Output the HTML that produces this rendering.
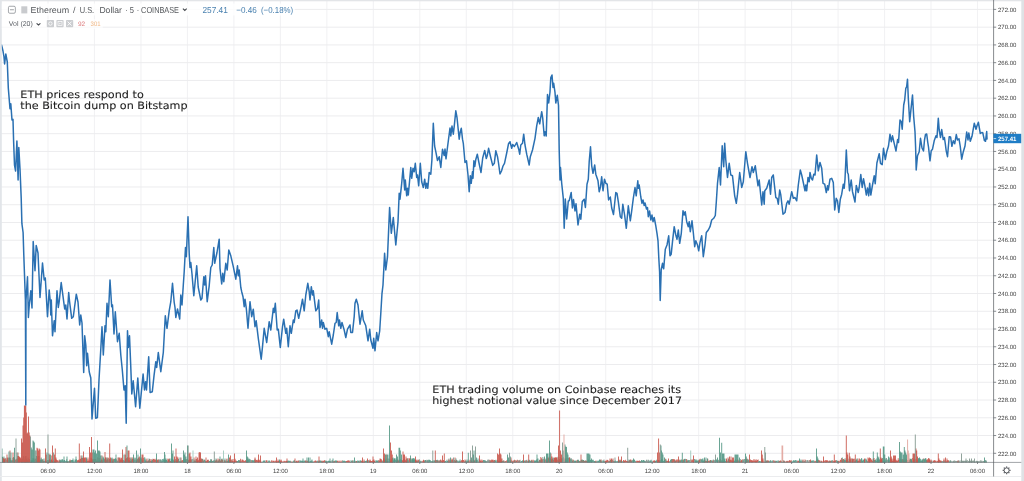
<!DOCTYPE html>
<html lang="en"><head><meta charset="utf-8"><title>Ethereum / U.S. Dollar · 5 · COINBASE</title>
<style>html,body{margin:0;padding:0;background:#fff;overflow:hidden}body{width:1024px;height:481px;position:relative}svg{position:absolute;left:0;top:0;display:block}text{font-family:"Liberation Sans",sans-serif;text-rendering:geometricPrecision}.ax{font-size:6.1px;fill:#3e3e3e}.an{font-family:"DejaVu Sans","Liberation Sans",sans-serif;font-size:10.2px;fill:#1a1a1a;stroke:#1a1a1a;stroke-width:0.08px}</style></head><body>
<svg width="1024" height="481" viewBox="0 0 1024 481" style="will-change:transform">
<defs><filter id="soft" x="-10" y="-10" width="1044" height="501" filterUnits="userSpaceOnUse" color-interpolation-filters="sRGB"><feGaussianBlur stdDeviation="0.42"/></filter></defs>
<rect width="1024" height="481" fill="#fff"/>
<g filter="url(#soft)">
<rect x="-10" y="-10" width="1044" height="501" fill="#fff"/>
<path d="M48.00 0V462.4M94.47 0V462.4M140.95 0V462.4M187.43 0V462.4M233.90 0V462.4M280.38 0V462.4M326.85 0V462.4M373.32 0V462.4M419.80 0V462.4M466.28 0V462.4M512.75 0V462.4M559.23 0V462.4M605.70 0V462.4M652.18 0V462.4M698.65 0V462.4M745.12 0V462.4M791.60 0V462.4M838.08 0V462.4M884.55 0V462.4M931.02 0V462.4M977.50 0V462.4" stroke="#f2f2f4" stroke-width="1.1" fill="none"/>
<path d="M0 9.40H993.6M0 27.16H993.6M0 44.91H993.6M0 62.67H993.6M0 80.42H993.6M0 98.18H993.6M0 115.94H993.6M0 133.69H993.6M0 151.45H993.6M0 169.20H993.6M0 186.96H993.6M0 204.72H993.6M0 222.47H993.6M0 240.23H993.6M0 257.98H993.6M0 275.74H993.6M0 293.50H993.6M0 311.25H993.6M0 329.01H993.6M0 346.76H993.6M0 364.52H993.6M0 382.28H993.6M0 400.03H993.6M0 417.79H993.6M0 435.54H993.6M0 453.30H993.6" stroke="#ececee" stroke-width="1" fill="none"/>
<path d="M13.84 462.4v-4.6h0.95v4.6zM14.53 462.4v-2.7h0.95v2.7zM15.22 462.4v-2.9h0.95v2.9zM15.91 462.4v-3.2h0.95v3.2zM16.60 462.4v-4.0h0.95v4.0zM17.29 462.4v-6.5h0.95v6.5zM17.98 462.4v-6.5h0.95v6.5zM18.67 462.4v-5.8h0.95v5.8zM19.36 462.4v-5.1h0.95v5.1zM20.05 462.4v-4.2h0.95v4.2zM20.75 462.4v-2.0h0.95v2.0zM24.20 462.4v-2.8h0.95v2.8zM24.89 462.4v-6.1h0.95v6.1zM31.10 462.4v-1.9h0.95v1.9zM34.55 462.4v-3.8h0.95v3.8zM35.24 462.4v-3.6h0.95v3.6zM48.34 462.4v-2.0h0.95v2.0zM49.03 462.4v-3.2h0.95v3.2zM49.72 462.4v-2.0h0.95v2.0zM50.41 462.4v-2.3h0.95v2.3zM51.10 462.4v-2.9h0.95v2.9zM54.55 462.4v-1.4h0.95v1.4zM55.24 462.4v-3.1h0.95v3.1zM55.93 462.4v-3.0h0.95v3.0zM56.62 462.4v-2.3h0.95v2.3zM57.31 462.4v-1.9h0.95v1.9zM58.00 462.4v-1.0h0.95v1.0zM58.69 462.4v-2.6h0.95v2.6zM59.38 462.4v-1.8h0.95v1.8zM66.97 462.4v-1.1h0.95v1.1zM76.63 462.4v-2.4h0.95v2.4zM77.32 462.4v-2.0h0.95v2.0zM78.01 462.4v-2.6h0.95v2.6zM78.70 462.4v-1.7h0.95v1.7zM79.39 462.4v-3.2h0.95v3.2zM80.08 462.4v-3.5h0.95v3.5zM80.77 462.4v-4.3h0.95v4.3zM81.46 462.4v-4.9h0.95v4.9zM82.15 462.4v-4.3h0.95v4.3zM82.84 462.4v-4.5h0.95v4.5zM83.53 462.4v-4.9h0.95v4.9zM84.22 462.4v-4.1h0.95v4.1zM84.91 462.4v-5.0h0.95v5.0zM85.60 462.4v-1.6h0.95v1.6zM86.29 462.4v-3.4h0.95v3.4zM86.98 462.4v-1.5h0.95v1.5zM87.67 462.4v-2.9h0.95v2.9zM88.36 462.4v-1.5h0.95v1.5zM89.05 462.4v-1.7h0.95v1.7zM89.74 462.4v-1.8h0.95v1.8zM90.43 462.4v-4.8h0.95v4.8zM91.12 462.4v-4.2h0.95v4.2zM91.81 462.4v-2.9h0.95v2.9zM92.50 462.4v-3.2h0.95v3.2zM93.19 462.4v-3.2h0.95v3.2zM93.88 462.4v-3.5h0.95v3.5zM94.57 462.4v-3.4h0.95v3.4zM95.26 462.4v-3.4h0.95v3.4zM95.95 462.4v-1.8h0.95v1.8zM96.64 462.4v-1.6h0.95v1.6zM97.33 462.4v-5.1h0.95v5.1zM98.02 462.4v-1.9h0.95v1.9zM98.71 462.4v-4.4h0.95v4.4zM99.40 462.4v-2.4h0.95v2.4zM100.09 462.4v-1.5h0.95v1.5zM100.78 462.4v-2.6h0.95v2.6zM101.47 462.4v-4.0h0.95v4.0zM105.61 462.4v-4.0h0.95v4.0zM106.30 462.4v-2.2h0.95v2.2zM106.99 462.4v-3.1h0.95v3.1zM107.68 462.4v-4.5h0.95v4.5zM109.75 462.4v-2.0h0.95v2.0zM110.44 462.4v-3.3h0.95v3.3zM111.82 462.4v-1.9h0.95v1.9zM112.51 462.4v-3.3h0.95v3.3zM119.41 462.4v-3.6h0.95v3.6zM120.10 462.4v-2.6h0.95v2.6zM120.79 462.4v-4.5h0.95v4.5zM121.48 462.4v-3.0h0.95v3.0zM122.17 462.4v-2.2h0.95v2.2zM124.93 462.4v-3.2h0.95v3.2zM125.62 462.4v-3.9h0.95v3.9zM126.31 462.4v-4.5h0.95v4.5zM127.00 462.4v-5.1h0.95v5.1zM127.69 462.4v-4.1h0.95v4.1zM128.38 462.4v-2.2h0.95v2.2zM131.14 462.4v-2.1h0.95v2.1zM131.83 462.4v-3.5h0.95v3.5zM132.52 462.4v-5.0h0.95v5.0zM133.21 462.4v-3.4h0.95v3.4zM135.97 462.4v-2.0h0.95v2.0zM136.66 462.4v-3.2h0.95v3.2zM137.35 462.4v-3.8h0.95v3.8zM138.04 462.4v-4.9h0.95v4.9zM142.18 462.4v-1.8h0.95v1.8zM142.87 462.4v-4.7h0.95v4.7zM147.70 462.4v-2.2h0.95v2.2zM148.39 462.4v-1.8h0.95v1.8zM149.08 462.4v-3.5h0.95v3.5zM149.77 462.4v-1.6h0.95v1.6zM150.46 462.4v-3.4h0.95v3.4zM151.84 462.4v-2.3h0.95v2.3zM152.53 462.4v-3.7h0.95v3.7zM153.22 462.4v-3.3h0.95v3.3zM153.91 462.4v-2.9h0.95v2.9zM154.60 462.4v-3.6h0.95v3.6zM155.29 462.4v-2.4h0.95v2.4zM155.98 462.4v-3.6h0.95v3.6zM156.67 462.4v-2.2h0.95v2.2zM157.36 462.4v-2.6h0.95v2.6zM167.71 462.4v-3.5h0.95v3.5zM168.40 462.4v-2.5h0.95v2.5zM169.09 462.4v-3.7h0.95v3.7zM169.78 462.4v-1.4h0.95v1.4zM170.47 462.4v-1.3h0.95v1.3zM181.51 462.4v-1.7h0.95v1.7zM182.20 462.4v-2.4h0.95v2.4zM182.89 462.4v-2.4h0.95v2.4zM186.34 462.4v-2.8h0.95v2.8zM187.03 462.4v-3.3h0.95v3.3zM187.72 462.4v-2.7h0.95v2.7zM188.41 462.4v-2.5h0.95v2.5zM196.00 462.4v-3.5h0.95v3.5zM196.69 462.4v-1.4h0.95v1.4zM197.38 462.4v-2.1h0.95v2.1zM198.07 462.4v-2.2h0.95v2.2zM198.76 462.4v-3.6h0.95v3.6zM205.66 462.4v-1.3h0.95v1.3zM206.35 462.4v-1.2h0.95v1.2zM207.04 462.4v-2.5h0.95v2.5zM207.73 462.4v-2.4h0.95v2.4zM211.18 462.4v-2.6h0.95v2.6zM214.63 462.4v-1.6h0.95v1.6zM215.32 462.4v-2.1h0.95v2.1zM216.01 462.4v-2.8h0.95v2.8zM216.70 462.4v-1.2h0.95v1.2zM218.77 462.4v-3.5h0.95v3.5zM219.46 462.4v-2.7h0.95v2.7zM220.15 462.4v-1.3h0.95v1.3zM220.84 462.4v-3.2h0.95v3.2zM221.53 462.4v-3.2h0.95v3.2zM222.22 462.4v-2.6h0.95v2.6zM222.91 462.4v-1.6h0.95v1.6zM223.60 462.4v-2.6h0.95v2.6zM224.29 462.4v-2.0h0.95v2.0zM231.19 462.4v-1.9h0.95v1.9zM231.88 462.4v-1.3h0.95v1.3zM232.57 462.4v-3.4h0.95v3.4zM233.26 462.4v-1.2h0.95v1.2zM233.95 462.4v-1.8h0.95v1.8zM234.64 462.4v-3.6h0.95v3.6zM235.33 462.4v-1.9h0.95v1.9zM236.02 462.4v-1.6h0.95v1.6zM240.16 462.4v-3.7h0.95v3.7zM240.85 462.4v-1.1h0.95v1.1zM241.54 462.4v-2.7h0.95v2.7zM242.23 462.4v-3.0h0.95v3.0zM242.92 462.4v-2.1h0.95v2.1zM243.61 462.4v-1.2h0.95v1.2zM244.30 462.4v-1.6h0.95v1.6zM244.99 462.4v-2.1h0.95v2.1zM245.68 462.4v-1.7h0.95v1.7zM246.37 462.4v-3.5h0.95v3.5zM247.06 462.4v-2.5h0.95v2.5zM251.20 462.4v-2.1h0.95v2.1zM254.65 462.4v-3.6h0.95v3.6zM255.34 462.4v-2.2h0.95v2.2zM256.03 462.4v-2.5h0.95v2.5zM256.72 462.4v-2.7h0.95v2.7zM257.41 462.4v-1.8h0.95v1.8zM258.10 462.4v-2.8h0.95v2.8zM258.79 462.4v-2.6h0.95v2.6zM259.48 462.4v-1.8h0.95v1.8zM260.17 462.4v-1.8h0.95v1.8zM260.86 462.4v-0.7h0.95v0.7zM265.00 462.4v-0.7h0.95v0.7zM265.69 462.4v-2.2h0.95v2.2zM266.38 462.4v-2.2h0.95v2.2zM267.07 462.4v-0.7h0.95v0.7zM270.52 462.4v-0.9h0.95v0.9zM271.21 462.4v-2.2h0.95v2.2zM271.90 462.4v-1.0h0.95v1.0zM272.59 462.4v-1.8h0.95v1.8zM273.28 462.4v-1.3h0.95v1.3zM273.97 462.4v-0.8h0.95v0.8zM274.66 462.4v-2.0h0.95v2.0zM275.35 462.4v-1.2h0.95v1.2zM276.04 462.4v-0.9h0.95v0.9zM276.73 462.4v-0.9h0.95v0.9zM277.42 462.4v-1.3h0.95v1.3zM278.11 462.4v-1.6h0.95v1.6zM278.80 462.4v-1.7h0.95v1.7zM279.49 462.4v-1.2h0.95v1.2zM280.18 462.4v-1.8h0.95v1.8zM280.87 462.4v-2.0h0.95v2.0zM281.56 462.4v-0.9h0.95v0.9zM282.25 462.4v-1.0h0.95v1.0zM282.94 462.4v-0.8h0.95v0.8zM283.63 462.4v-1.6h0.95v1.6zM284.32 462.4v-1.2h0.95v1.2zM285.01 462.4v-1.1h0.95v1.1zM285.70 462.4v-1.7h0.95v1.7zM286.39 462.4v-1.5h0.95v1.5zM290.53 462.4v-1.1h0.95v1.1zM291.22 462.4v-0.7h0.95v0.7zM291.91 462.4v-0.7h0.95v0.7zM296.05 462.4v-1.4h0.95v1.4zM296.74 462.4v-1.0h0.95v1.0zM297.43 462.4v-1.2h0.95v1.2zM298.12 462.4v-1.8h0.95v1.8zM305.02 462.4v-1.9h0.95v1.9zM305.71 462.4v-2.0h0.95v2.0zM306.40 462.4v-0.9h0.95v0.9zM307.09 462.4v-1.7h0.95v1.7zM307.78 462.4v-1.6h0.95v1.6zM313.30 462.4v-0.8h0.95v0.8zM313.99 462.4v-1.1h0.95v1.1zM314.68 462.4v-1.8h0.95v1.8zM315.37 462.4v-1.8h0.95v1.8zM316.06 462.4v-1.1h0.95v1.1zM318.13 462.4v-1.2h0.95v1.2zM322.27 462.4v-1.1h0.95v1.1zM322.96 462.4v-1.3h0.95v1.3zM323.65 462.4v-2.1h0.95v2.1zM324.34 462.4v-2.1h0.95v2.1zM325.72 462.4v-1.2h0.95v1.2zM333.31 462.4v-1.5h0.95v1.5zM334.00 462.4v-1.5h0.95v1.5zM336.76 462.4v-1.5h0.95v1.5zM337.45 462.4v-1.9h0.95v1.9zM338.14 462.4v-0.8h0.95v0.8zM338.83 462.4v-0.8h0.95v0.8zM339.52 462.4v-1.8h0.95v1.8zM340.21 462.4v-0.7h0.95v0.7zM340.90 462.4v-0.8h0.95v0.8zM341.59 462.4v-2.0h0.95v2.0zM345.73 462.4v-1.4h0.95v1.4zM346.42 462.4v-1.5h0.95v1.5zM347.11 462.4v-1.8h0.95v1.8zM347.80 462.4v-1.9h0.95v1.9zM348.49 462.4v-2.2h0.95v2.2zM349.18 462.4v-1.2h0.95v1.2zM349.87 462.4v-0.6h0.95v0.6zM351.94 462.4v-1.9h0.95v1.9zM355.39 462.4v-1.1h0.95v1.1zM356.08 462.4v-1.3h0.95v1.3zM358.84 462.4v-1.1h0.95v1.1zM360.91 462.4v-1.4h0.95v1.4zM361.60 462.4v-1.9h0.95v1.9zM362.29 462.4v-1.1h0.95v1.1zM362.98 462.4v-1.0h0.95v1.0zM363.67 462.4v-1.2h0.95v1.2zM368.50 462.4v-2.2h0.95v2.2zM369.19 462.4v-1.5h0.95v1.5zM369.88 462.4v-2.0h0.95v2.0zM370.57 462.4v-1.4h0.95v1.4zM371.26 462.4v-1.3h0.95v1.3zM371.95 462.4v-1.9h0.95v1.9zM372.64 462.4v-0.8h0.95v0.8zM373.33 462.4v-2.0h0.95v2.0zM374.02 462.4v-1.3h0.95v1.3zM374.71 462.4v-1.0h0.95v1.0zM378.16 462.4v-2.1h0.95v2.1zM378.85 462.4v-2.0h0.95v2.0zM379.54 462.4v-3.8h0.95v3.8zM380.23 462.4v-3.6h0.95v3.6zM380.92 462.4v-3.2h0.95v3.2zM381.61 462.4v-1.8h0.95v1.8zM389.20 462.4v-3.6h0.95v3.6zM389.89 462.4v-1.6h0.95v1.6zM390.58 462.4v-2.8h0.95v2.8zM391.27 462.4v-2.8h0.95v2.8zM391.96 462.4v-4.4h0.95v4.4zM396.10 462.4v-1.9h0.95v1.9zM396.79 462.4v-3.0h0.95v3.0zM397.48 462.4v-3.0h0.95v3.0zM398.17 462.4v-1.8h0.95v1.8zM401.62 462.4v-1.6h0.95v1.6zM402.31 462.4v-2.5h0.95v2.5zM403.69 462.4v-3.6h0.95v3.6zM404.38 462.4v-2.8h0.95v2.8zM405.07 462.4v-2.2h0.95v2.2zM405.76 462.4v-1.6h0.95v1.6zM408.52 462.4v-4.3h0.95v4.3zM409.21 462.4v-3.7h0.95v3.7zM409.90 462.4v-4.4h0.95v4.4zM410.59 462.4v-3.7h0.95v3.7zM414.73 462.4v-2.7h0.95v2.7zM415.42 462.4v-2.5h0.95v2.5zM416.11 462.4v-1.6h0.95v1.6zM417.49 462.4v-1.8h0.95v1.8zM418.18 462.4v-2.6h0.95v2.6zM421.63 462.4v-1.6h0.95v1.6zM422.32 462.4v-1.0h0.95v1.0zM423.01 462.4v-2.7h0.95v2.7zM423.70 462.4v-1.7h0.95v1.7zM438.19 462.4v-1.8h0.95v1.8zM438.88 462.4v-1.1h0.95v1.1zM439.57 462.4v-2.3h0.95v2.3zM440.26 462.4v-2.8h0.95v2.8zM440.95 462.4v-1.9h0.95v1.9zM441.64 462.4v-2.0h0.95v2.0zM442.33 462.4v-0.9h0.95v0.9zM443.02 462.4v-2.4h0.95v2.4zM443.71 462.4v-1.1h0.95v1.1zM447.85 462.4v-2.8h0.95v2.8zM448.54 462.4v-1.1h0.95v1.1zM449.23 462.4v-2.7h0.95v2.7zM449.92 462.4v-1.9h0.95v1.9zM451.30 462.4v-2.7h0.95v2.7zM451.99 462.4v-2.9h0.95v2.9zM454.75 462.4v-1.3h0.95v1.3zM455.44 462.4v-2.0h0.95v2.0zM456.13 462.4v-2.5h0.95v2.5zM460.27 462.4v-1.4h0.95v1.4zM460.96 462.4v-2.2h0.95v2.2zM461.65 462.4v-2.1h0.95v2.1zM462.34 462.4v-2.1h0.95v2.1zM463.03 462.4v-2.4h0.95v2.4zM463.72 462.4v-1.1h0.95v1.1zM467.17 462.4v-1.1h0.95v1.1zM467.86 462.4v-1.3h0.95v1.3zM468.55 462.4v-2.7h0.95v2.7zM469.24 462.4v-0.9h0.95v0.9zM469.93 462.4v-2.4h0.95v2.4zM470.62 462.4v-1.6h0.95v1.6zM471.31 462.4v-1.8h0.95v1.8zM472.00 462.4v-1.5h0.95v1.5zM472.69 462.4v-2.7h0.95v2.7zM473.38 462.4v-2.7h0.95v2.7zM474.07 462.4v-2.0h0.95v2.0zM479.59 462.4v-1.9h0.95v1.9zM480.28 462.4v-1.7h0.95v1.7zM480.97 462.4v-0.9h0.95v0.9zM481.66 462.4v-2.7h0.95v2.7zM482.35 462.4v-1.4h0.95v1.4zM489.25 462.4v-2.7h0.95v2.7zM489.94 462.4v-1.9h0.95v1.9zM490.63 462.4v-2.2h0.95v2.2zM491.32 462.4v-2.8h0.95v2.8zM492.01 462.4v-2.6h0.95v2.6zM492.70 462.4v-2.6h0.95v2.6zM493.39 462.4v-1.7h0.95v1.7zM494.08 462.4v-2.5h0.95v2.5zM497.53 462.4v-2.0h0.95v2.0zM498.22 462.4v-1.7h0.95v1.7zM498.91 462.4v-1.4h0.95v1.4zM499.60 462.4v-2.3h0.95v2.3zM500.29 462.4v-0.9h0.95v0.9zM505.12 462.4v-1.5h0.95v1.5zM505.81 462.4v-1.1h0.95v1.1zM506.50 462.4v-2.4h0.95v2.4zM509.95 462.4v-1.5h0.95v1.5zM510.64 462.4v-2.6h0.95v2.6zM512.02 462.4v-1.2h0.95v1.2zM512.71 462.4v-2.1h0.95v2.1zM513.40 462.4v-1.2h0.95v1.2zM514.09 462.4v-2.6h0.95v2.6zM514.78 462.4v-0.9h0.95v0.9zM515.47 462.4v-2.3h0.95v2.3zM516.16 462.4v-1.5h0.95v1.5zM516.85 462.4v-2.7h0.95v2.7zM530.65 462.4v-1.8h0.95v1.8zM531.35 462.4v-2.7h0.95v2.7zM532.04 462.4v-1.0h0.95v1.0zM532.73 462.4v-2.7h0.95v2.7zM533.42 462.4v-0.8h0.95v0.8zM538.25 462.4v-0.9h0.95v0.9zM538.94 462.4v-2.4h0.95v2.4zM539.63 462.4v-2.2h0.95v2.2zM540.32 462.4v-5.3h0.95v5.3zM541.01 462.4v-4.2h0.95v4.2zM545.15 462.4v-2.9h0.95v2.9zM545.84 462.4v-3.6h0.95v3.6zM546.53 462.4v-1.7h0.95v1.7zM547.22 462.4v-5.0h0.95v5.0zM547.91 462.4v-4.2h0.95v4.2zM548.60 462.4v-5.7h0.95v5.7zM549.29 462.4v-4.7h0.95v4.7zM549.98 462.4v-3.8h0.95v3.8zM552.05 462.4v-3.9h0.95v3.9zM552.74 462.4v-2.7h0.95v2.7zM553.43 462.4v-4.6h0.95v4.6zM554.12 462.4v-4.6h0.95v4.6zM554.81 462.4v-3.9h0.95v3.9zM555.50 462.4v-5.1h0.95v5.1zM556.19 462.4v-4.1h0.95v4.1zM556.88 462.4v-2.7h0.95v2.7zM564.47 462.4v-4.0h0.95v4.0zM565.16 462.4v-3.9h0.95v3.9zM576.20 462.4v-1.8h0.95v1.8zM576.89 462.4v-2.4h0.95v2.4zM578.96 462.4v-1.3h0.95v1.3zM583.79 462.4v-1.3h0.95v1.3zM584.48 462.4v-1.3h0.95v1.3zM585.17 462.4v-1.9h0.95v1.9zM585.86 462.4v-1.3h0.95v1.3zM586.55 462.4v-1.8h0.95v1.8zM594.83 462.4v-1.2h0.95v1.2zM595.52 462.4v-1.9h0.95v1.9zM604.49 462.4v-1.2h0.95v1.2zM605.18 462.4v-1.3h0.95v1.3zM605.87 462.4v-1.6h0.95v1.6zM606.56 462.4v-2.7h0.95v2.7zM607.25 462.4v-2.3h0.95v2.3zM607.94 462.4v-1.6h0.95v1.6zM610.70 462.4v-2.9h0.95v2.9zM623.12 462.4v-2.3h0.95v2.3zM623.81 462.4v-1.6h0.95v1.6zM624.50 462.4v-1.6h0.95v1.6zM625.19 462.4v-2.6h0.95v2.6zM625.88 462.4v-1.3h0.95v1.3zM626.57 462.4v-1.5h0.95v1.5zM627.26 462.4v-1.3h0.95v1.3zM627.95 462.4v-0.9h0.95v0.9zM628.64 462.4v-2.0h0.95v2.0zM629.33 462.4v-2.5h0.95v2.5zM630.02 462.4v-2.8h0.95v2.8zM630.71 462.4v-1.4h0.95v1.4zM631.40 462.4v-2.7h0.95v2.7zM635.54 462.4v-1.0h0.95v1.0zM636.23 462.4v-1.7h0.95v1.7zM636.92 462.4v-1.6h0.95v1.6zM637.61 462.4v-1.6h0.95v1.6zM638.30 462.4v-1.5h0.95v1.5zM638.99 462.4v-1.8h0.95v1.8zM639.68 462.4v-1.4h0.95v1.4zM652.79 462.4v-2.0h0.95v2.0zM653.48 462.4v-1.3h0.95v1.3zM654.17 462.4v-2.2h0.95v2.2zM657.62 462.4v-2.4h0.95v2.4zM658.31 462.4v-2.1h0.95v2.1zM665.21 462.4v-3.7h0.95v3.7zM665.90 462.4v-1.5h0.95v1.5zM666.59 462.4v-1.6h0.95v1.6zM667.28 462.4v-1.7h0.95v1.7zM667.97 462.4v-1.7h0.95v1.7zM668.66 462.4v-1.1h0.95v1.1zM672.11 462.4v-3.3h0.95v3.3zM672.80 462.4v-3.4h0.95v3.4zM673.49 462.4v-2.9h0.95v2.9zM674.18 462.4v-3.2h0.95v3.2zM674.87 462.4v-1.8h0.95v1.8zM675.56 462.4v-1.9h0.95v1.9zM676.25 462.4v-2.9h0.95v2.9zM676.94 462.4v-2.9h0.95v2.9zM682.46 462.4v-2.0h0.95v2.0zM683.15 462.4v-3.0h0.95v3.0zM685.91 462.4v-3.3h0.95v3.3zM689.36 462.4v-2.1h0.95v2.1zM690.05 462.4v-3.0h0.95v3.0zM690.74 462.4v-2.9h0.95v2.9zM691.43 462.4v-2.0h0.95v2.0zM692.12 462.4v-2.9h0.95v2.9zM692.81 462.4v-1.5h0.95v1.5zM699.02 462.4v-2.8h0.95v2.8zM699.71 462.4v-3.7h0.95v3.7zM703.85 462.4v-2.1h0.95v2.1zM704.54 462.4v-2.9h0.95v2.9zM705.23 462.4v-1.4h0.95v1.4zM705.92 462.4v-1.5h0.95v1.5zM706.61 462.4v-1.6h0.95v1.6zM707.30 462.4v-3.7h0.95v3.7zM707.99 462.4v-1.4h0.95v1.4zM708.68 462.4v-1.9h0.95v1.9zM709.37 462.4v-1.1h0.95v1.1zM710.06 462.4v-2.5h0.95v2.5zM718.34 462.4v-2.2h0.95v2.2zM719.03 462.4v-1.5h0.95v1.5zM719.72 462.4v-3.4h0.95v3.4zM720.41 462.4v-1.8h0.95v1.8zM722.48 462.4v-1.3h0.95v1.3zM723.17 462.4v-1.6h0.95v1.6zM729.38 462.4v-2.0h0.95v2.0zM730.07 462.4v-2.6h0.95v2.6zM730.76 462.4v-2.6h0.95v2.6zM731.45 462.4v-1.6h0.95v1.6zM736.28 462.4v-2.5h0.95v2.5zM736.97 462.4v-2.9h0.95v2.9zM737.66 462.4v-1.1h0.95v1.1zM738.35 462.4v-2.6h0.95v2.6zM739.04 462.4v-1.2h0.95v1.2zM740.42 462.4v-1.1h0.95v1.1zM741.11 462.4v-2.5h0.95v2.5zM741.80 462.4v-3.2h0.95v3.2zM748.70 462.4v-1.4h0.95v1.4zM749.39 462.4v-1.9h0.95v1.9zM750.08 462.4v-3.0h0.95v3.0zM750.77 462.4v-2.4h0.95v2.4zM751.46 462.4v-1.8h0.95v1.8zM752.15 462.4v-2.0h0.95v2.0zM752.84 462.4v-1.8h0.95v1.8zM753.53 462.4v-3.5h0.95v3.5zM754.22 462.4v-1.9h0.95v1.9zM754.91 462.4v-2.0h0.95v2.0zM755.60 462.4v-3.1h0.95v3.1zM756.29 462.4v-1.6h0.95v1.6zM756.98 462.4v-2.5h0.95v2.5zM757.67 462.4v-2.9h0.95v2.9zM761.81 462.4v-2.1h0.95v2.1zM762.50 462.4v-2.0h0.95v2.0zM763.19 462.4v-0.7h0.95v0.7zM763.88 462.4v-1.0h0.95v1.0zM764.57 462.4v-0.8h0.95v0.8zM765.95 462.4v-1.5h0.95v1.5zM766.64 462.4v-2.3h0.95v2.3zM767.33 462.4v-1.5h0.95v1.5zM768.02 462.4v-2.0h0.95v2.0zM772.85 462.4v-2.2h0.95v2.2zM773.54 462.4v-0.8h0.95v0.8zM774.23 462.4v-1.7h0.95v1.7zM774.92 462.4v-1.3h0.95v1.3zM778.37 462.4v-1.4h0.95v1.4zM779.06 462.4v-1.5h0.95v1.5zM779.75 462.4v-2.1h0.95v2.1zM780.44 462.4v-1.5h0.95v1.5zM784.58 462.4v-0.7h0.95v0.7zM785.27 462.4v-0.8h0.95v0.8zM785.96 462.4v-1.2h0.95v1.2zM786.65 462.4v-1.6h0.95v1.6zM787.34 462.4v-1.2h0.95v1.2zM788.03 462.4v-1.2h0.95v1.2zM788.72 462.4v-1.9h0.95v1.9zM789.41 462.4v-2.4h0.95v2.4zM790.10 462.4v-1.4h0.95v1.4zM790.79 462.4v-2.1h0.95v2.1zM797.00 462.4v-1.1h0.95v1.1zM797.69 462.4v-2.0h0.95v2.0zM798.38 462.4v-1.4h0.95v1.4zM808.73 462.4v-2.3h0.95v2.3zM814.25 462.4v-1.6h0.95v1.6zM814.94 462.4v-1.2h0.95v1.2zM815.63 462.4v-1.6h0.95v1.6zM816.32 462.4v-2.4h0.95v2.4zM817.70 462.4v-2.1h0.95v2.1zM818.39 462.4v-2.3h0.95v2.3zM819.08 462.4v-1.8h0.95v1.8zM821.15 462.4v-1.5h0.95v1.5zM821.84 462.4v-0.9h0.95v0.9zM822.53 462.4v-0.9h0.95v0.9zM823.22 462.4v-2.3h0.95v2.3zM823.91 462.4v-1.7h0.95v1.7zM824.60 462.4v-1.0h0.95v1.0zM825.29 462.4v-2.4h0.95v2.4zM825.98 462.4v-1.8h0.95v1.8zM826.67 462.4v-2.2h0.95v2.2zM827.36 462.4v-2.0h0.95v2.0zM828.05 462.4v-1.0h0.95v1.0zM828.74 462.4v-1.4h0.95v1.4zM829.43 462.4v-2.1h0.95v2.1zM830.12 462.4v-1.4h0.95v1.4zM832.19 462.4v-1.9h0.95v1.9zM832.88 462.4v-1.1h0.95v1.1zM833.57 462.4v-1.7h0.95v1.7zM834.26 462.4v-1.2h0.95v1.2zM834.95 462.4v-2.2h0.95v2.2zM835.64 462.4v-1.8h0.95v1.8zM837.71 462.4v-1.7h0.95v1.7zM838.40 462.4v-1.4h0.95v1.4zM839.09 462.4v-0.8h0.95v0.8zM839.78 462.4v-2.6h0.95v2.6zM840.47 462.4v-2.7h0.95v2.7zM841.16 462.4v-4.4h0.95v4.4zM841.85 462.4v-2.2h0.95v2.2zM842.54 462.4v-3.5h0.95v3.5zM843.23 462.4v-3.4h0.95v3.4zM851.51 462.4v-1.4h0.95v1.4zM852.20 462.4v-3.2h0.95v3.2zM852.89 462.4v-3.5h0.95v3.5zM857.03 462.4v-1.5h0.95v1.5zM857.72 462.4v-2.0h0.95v2.0zM858.41 462.4v-1.3h0.95v1.3zM859.10 462.4v-3.8h0.95v3.8zM859.79 462.4v-2.7h0.95v2.7zM863.93 462.4v-2.9h0.95v2.9zM864.62 462.4v-3.2h0.95v3.2zM868.07 462.4v-3.8h0.95v3.8zM868.76 462.4v-4.2h0.95v4.2zM869.45 462.4v-3.4h0.95v3.4zM870.14 462.4v-4.4h0.95v4.4zM870.83 462.4v-2.8h0.95v2.8zM871.52 462.4v-2.8h0.95v2.8zM872.21 462.4v-1.3h0.95v1.3zM872.90 462.4v-4.0h0.95v4.0zM873.59 462.4v-4.3h0.95v4.3zM874.28 462.4v-2.4h0.95v2.4zM878.42 462.4v-3.1h0.95v3.1zM879.80 462.4v-2.4h0.95v2.4zM880.49 462.4v-2.1h0.95v2.1zM881.18 462.4v-3.2h0.95v3.2zM889.46 462.4v-1.8h0.95v1.8zM890.15 462.4v-3.9h0.95v3.9zM890.84 462.4v-1.8h0.95v1.8zM891.53 462.4v-3.0h0.95v3.0zM892.22 462.4v-1.4h0.95v1.4zM892.91 462.4v-1.6h0.95v1.6zM893.60 462.4v-3.3h0.95v3.3zM894.29 462.4v-4.0h0.95v4.0zM894.98 462.4v-1.4h0.95v1.4zM895.67 462.4v-2.6h0.95v2.6zM896.36 462.4v-1.5h0.95v1.5zM897.05 462.4v-1.6h0.95v1.6zM897.74 462.4v-4.2h0.95v4.2zM898.43 462.4v-2.3h0.95v2.3zM899.12 462.4v-2.8h0.95v2.8zM899.81 462.4v-3.4h0.95v3.4zM901.88 462.4v-3.3h0.95v3.3zM902.57 462.4v-2.1h0.95v2.1zM903.26 462.4v-3.2h0.95v3.2zM903.95 462.4v-2.0h0.95v2.0zM904.64 462.4v-3.8h0.95v3.8zM905.33 462.4v-2.5h0.95v2.5zM906.02 462.4v-3.4h0.95v3.4zM906.71 462.4v-2.3h0.95v2.3zM907.40 462.4v-2.3h0.95v2.3zM912.23 462.4v-4.3h0.95v4.3zM912.92 462.4v-2.9h0.95v2.9zM913.61 462.4v-3.0h0.95v3.0zM914.30 462.4v-3.6h0.95v3.6zM914.99 462.4v-3.2h0.95v3.2zM915.68 462.4v-1.6h0.95v1.6zM916.37 462.4v-3.5h0.95v3.5zM917.06 462.4v-2.4h0.95v2.4zM923.27 462.4v-4.0h0.95v4.0zM926.03 462.4v-2.6h0.95v2.6zM926.72 462.4v-2.2h0.95v2.2zM927.41 462.4v-3.5h0.95v3.5zM928.10 462.4v-4.4h0.95v4.4zM928.79 462.4v-4.0h0.95v4.0zM929.48 462.4v-2.3h0.95v2.3zM930.17 462.4v-1.2h0.95v1.2zM932.24 462.4v-0.7h0.95v0.7zM932.93 462.4v-1.7h0.95v1.7zM933.62 462.4v-1.6h0.95v1.6zM934.31 462.4v-2.3h0.95v2.3zM935.00 462.4v-1.7h0.95v1.7zM935.69 462.4v-1.7h0.95v1.7zM936.38 462.4v-0.7h0.95v0.7zM937.07 462.4v-1.4h0.95v1.4zM937.76 462.4v-1.8h0.95v1.8zM938.45 462.4v-2.3h0.95v2.3zM939.14 462.4v-2.2h0.95v2.2zM939.83 462.4v-2.0h0.95v2.0zM940.52 462.4v-1.4h0.95v1.4zM943.28 462.4v-2.1h0.95v2.1zM946.04 462.4v-1.2h0.95v1.2zM946.73 462.4v-2.3h0.95v2.3zM947.42 462.4v-1.6h0.95v1.6zM948.11 462.4v-2.2h0.95v2.2z" fill="#c9584d" fill-opacity="0.92"/>
<path d="M1.42 462.4v-5.8h0.95v5.8zM2.11 462.4v-5.5h0.95v5.5zM2.80 462.4v-3.9h0.95v3.9zM3.49 462.4v-5.8h0.95v5.8zM4.19 462.4v-2.7h0.95v2.7zM8.32 462.4v-4.6h0.95v4.6zM9.01 462.4v-4.9h0.95v4.9zM9.70 462.4v-4.7h0.95v4.7zM10.39 462.4v-2.6h0.95v2.6zM11.08 462.4v-1.9h0.95v1.9zM11.77 462.4v-2.1h0.95v2.1zM12.46 462.4v-4.6h0.95v4.6zM13.15 462.4v-5.5h0.95v5.5zM21.44 462.4v-3.7h0.95v3.7zM25.58 462.4v-6.4h0.95v6.4zM26.27 462.4v-3.7h0.95v3.7zM26.96 462.4v-2.2h0.95v2.2zM27.65 462.4v-4.8h0.95v4.8zM30.41 462.4v-2.4h0.95v2.4zM31.79 462.4v-2.7h0.95v2.7zM32.48 462.4v-4.4h0.95v4.4zM33.17 462.4v-3.9h0.95v3.9zM33.86 462.4v-2.7h0.95v2.7zM35.93 462.4v-6.5h0.95v6.5zM36.62 462.4v-1.8h0.95v1.8zM37.30 462.4v-5.9h0.95v5.9zM37.99 462.4v-6.4h0.95v6.4zM38.68 462.4v-6.5h0.95v6.5zM39.37 462.4v-1.9h0.95v1.9zM40.06 462.4v-2.7h0.95v2.7zM47.65 462.4v-2.3h0.95v2.3zM51.79 462.4v-1.6h0.95v1.6zM52.48 462.4v-1.4h0.95v1.4zM53.17 462.4v-2.6h0.95v2.6zM53.86 462.4v-1.3h0.95v1.3zM60.07 462.4v-2.1h0.95v2.1zM60.76 462.4v-2.1h0.95v2.1zM61.45 462.4v-3.1h0.95v3.1zM62.14 462.4v-3.2h0.95v3.2zM62.83 462.4v-1.2h0.95v1.2zM63.52 462.4v-2.4h0.95v2.4zM64.21 462.4v-2.4h0.95v2.4zM64.90 462.4v-1.1h0.95v1.1zM65.59 462.4v-1.4h0.95v1.4zM66.28 462.4v-3.1h0.95v3.1zM67.66 462.4v-1.5h0.95v1.5zM68.35 462.4v-1.0h0.95v1.0zM69.04 462.4v-1.6h0.95v1.6zM69.73 462.4v-2.2h0.95v2.2zM70.42 462.4v-1.8h0.95v1.8zM71.11 462.4v-2.4h0.95v2.4zM71.80 462.4v-2.5h0.95v2.5zM72.49 462.4v-2.3h0.95v2.3zM73.18 462.4v-1.0h0.95v1.0zM73.87 462.4v-1.0h0.95v1.0zM74.56 462.4v-3.0h0.95v3.0zM75.25 462.4v-2.6h0.95v2.6zM75.94 462.4v-3.2h0.95v3.2zM102.16 462.4v-2.1h0.95v2.1zM102.85 462.4v-4.9h0.95v4.9zM103.54 462.4v-4.0h0.95v4.0zM104.23 462.4v-3.1h0.95v3.1zM104.92 462.4v-4.8h0.95v4.8zM108.37 462.4v-2.9h0.95v2.9zM109.06 462.4v-3.7h0.95v3.7zM113.20 462.4v-2.9h0.95v2.9zM113.89 462.4v-3.4h0.95v3.4zM114.58 462.4v-4.0h0.95v4.0zM115.27 462.4v-4.2h0.95v4.2zM129.07 462.4v-2.1h0.95v2.1zM129.76 462.4v-1.5h0.95v1.5zM130.45 462.4v-3.3h0.95v3.3zM135.28 462.4v-3.0h0.95v3.0zM138.73 462.4v-3.6h0.95v3.6zM139.42 462.4v-4.8h0.95v4.8zM140.11 462.4v-4.5h0.95v4.5zM140.80 462.4v-5.0h0.95v5.0zM141.49 462.4v-3.2h0.95v3.2zM144.25 462.4v-5.2h0.95v5.2zM144.94 462.4v-1.8h0.95v1.8zM145.63 462.4v-3.0h0.95v3.0zM146.32 462.4v-1.1h0.95v1.1zM147.01 462.4v-1.2h0.95v1.2zM151.15 462.4v-1.5h0.95v1.5zM161.50 462.4v-1.6h0.95v1.6zM162.19 462.4v-3.3h0.95v3.3zM162.88 462.4v-3.7h0.95v3.7zM163.57 462.4v-2.5h0.95v2.5zM164.26 462.4v-2.6h0.95v2.6zM164.95 462.4v-2.5h0.95v2.5zM165.64 462.4v-2.4h0.95v2.4zM166.33 462.4v-2.7h0.95v2.7zM167.02 462.4v-1.1h0.95v1.1zM171.16 462.4v-3.6h0.95v3.6zM171.85 462.4v-3.5h0.95v3.5zM172.54 462.4v-3.2h0.95v3.2zM173.23 462.4v-2.1h0.95v2.1zM173.92 462.4v-1.7h0.95v1.7zM174.61 462.4v-2.0h0.95v2.0zM175.30 462.4v-3.5h0.95v3.5zM175.99 462.4v-1.9h0.95v1.9zM176.68 462.4v-1.6h0.95v1.6zM177.37 462.4v-2.7h0.95v2.7zM178.06 462.4v-3.5h0.95v3.5zM178.75 462.4v-1.4h0.95v1.4zM180.13 462.4v-1.1h0.95v1.1zM180.82 462.4v-1.8h0.95v1.8zM183.58 462.4v-3.4h0.95v3.4zM184.27 462.4v-3.0h0.95v3.0zM184.96 462.4v-2.9h0.95v2.9zM185.65 462.4v-3.4h0.95v3.4zM192.55 462.4v-3.5h0.95v3.5zM193.24 462.4v-1.9h0.95v1.9zM193.93 462.4v-1.9h0.95v1.9zM194.62 462.4v-3.2h0.95v3.2zM195.31 462.4v-1.6h0.95v1.6zM199.45 462.4v-1.6h0.95v1.6zM200.14 462.4v-2.7h0.95v2.7zM201.52 462.4v-3.5h0.95v3.5zM202.21 462.4v-3.7h0.95v3.7zM202.90 462.4v-1.4h0.95v1.4zM203.59 462.4v-2.4h0.95v2.4zM204.28 462.4v-2.9h0.95v2.9zM204.97 462.4v-1.6h0.95v1.6zM208.42 462.4v-1.4h0.95v1.4zM209.11 462.4v-1.5h0.95v1.5zM209.80 462.4v-1.6h0.95v1.6zM210.49 462.4v-3.3h0.95v3.3zM211.87 462.4v-1.3h0.95v1.3zM212.56 462.4v-1.3h0.95v1.3zM213.25 462.4v-2.1h0.95v2.1zM213.94 462.4v-2.2h0.95v2.2zM217.39 462.4v-2.2h0.95v2.2zM218.08 462.4v-2.0h0.95v2.0zM227.05 462.4v-1.4h0.95v1.4zM227.74 462.4v-1.9h0.95v1.9zM228.43 462.4v-2.5h0.95v2.5zM229.12 462.4v-2.0h0.95v2.0zM229.81 462.4v-2.1h0.95v2.1zM230.50 462.4v-3.0h0.95v3.0zM236.71 462.4v-1.5h0.95v1.5zM237.40 462.4v-1.3h0.95v1.3zM238.09 462.4v-2.4h0.95v2.4zM238.78 462.4v-2.4h0.95v2.4zM239.47 462.4v-1.6h0.95v1.6zM247.75 462.4v-3.7h0.95v3.7zM248.44 462.4v-2.6h0.95v2.6zM249.13 462.4v-3.7h0.95v3.7zM249.82 462.4v-2.8h0.95v2.8zM251.89 462.4v-2.3h0.95v2.3zM252.58 462.4v-1.5h0.95v1.5zM253.27 462.4v-2.4h0.95v2.4zM253.96 462.4v-2.7h0.95v2.7zM261.55 462.4v-0.7h0.95v0.7zM262.24 462.4v-0.9h0.95v0.9zM262.93 462.4v-1.9h0.95v1.9zM263.62 462.4v-1.3h0.95v1.3zM264.31 462.4v-2.1h0.95v2.1zM267.76 462.4v-1.8h0.95v1.8zM268.45 462.4v-1.0h0.95v1.0zM269.14 462.4v-1.9h0.95v1.9zM269.83 462.4v-0.7h0.95v0.7zM287.08 462.4v-1.7h0.95v1.7zM287.77 462.4v-1.9h0.95v1.9zM288.46 462.4v-1.4h0.95v1.4zM289.15 462.4v-1.7h0.95v1.7zM289.84 462.4v-1.6h0.95v1.6zM292.60 462.4v-1.1h0.95v1.1zM293.29 462.4v-1.9h0.95v1.9zM293.98 462.4v-2.1h0.95v2.1zM294.67 462.4v-0.9h0.95v0.9zM295.36 462.4v-1.0h0.95v1.0zM299.50 462.4v-2.0h0.95v2.0zM300.19 462.4v-1.9h0.95v1.9zM300.88 462.4v-1.3h0.95v1.3zM301.57 462.4v-1.8h0.95v1.8zM302.26 462.4v-1.3h0.95v1.3zM302.95 462.4v-0.9h0.95v0.9zM303.64 462.4v-2.0h0.95v2.0zM304.33 462.4v-1.6h0.95v1.6zM308.47 462.4v-0.8h0.95v0.8zM309.16 462.4v-0.8h0.95v0.8zM309.85 462.4v-1.5h0.95v1.5zM310.54 462.4v-1.1h0.95v1.1zM311.23 462.4v-1.9h0.95v1.9zM311.92 462.4v-0.8h0.95v0.8zM312.61 462.4v-1.0h0.95v1.0zM316.75 462.4v-1.2h0.95v1.2zM317.44 462.4v-1.8h0.95v1.8zM318.82 462.4v-1.6h0.95v1.6zM319.51 462.4v-2.1h0.95v2.1zM320.20 462.4v-1.7h0.95v1.7zM320.89 462.4v-1.1h0.95v1.1zM321.58 462.4v-1.5h0.95v1.5zM325.03 462.4v-1.2h0.95v1.2zM326.41 462.4v-1.3h0.95v1.3zM327.10 462.4v-0.9h0.95v0.9zM327.79 462.4v-1.5h0.95v1.5zM328.48 462.4v-1.9h0.95v1.9zM329.17 462.4v-1.5h0.95v1.5zM334.69 462.4v-2.2h0.95v2.2zM335.38 462.4v-1.7h0.95v1.7zM336.07 462.4v-1.9h0.95v1.9zM342.28 462.4v-1.8h0.95v1.8zM342.97 462.4v-1.4h0.95v1.4zM343.66 462.4v-1.9h0.95v1.9zM344.35 462.4v-1.3h0.95v1.3zM345.04 462.4v-1.2h0.95v1.2zM350.56 462.4v-2.1h0.95v2.1zM351.25 462.4v-1.5h0.95v1.5zM352.63 462.4v-2.1h0.95v2.1zM353.32 462.4v-1.0h0.95v1.0zM354.01 462.4v-0.9h0.95v0.9zM354.70 462.4v-1.7h0.95v1.7zM356.77 462.4v-1.1h0.95v1.1zM357.46 462.4v-2.1h0.95v2.1zM358.15 462.4v-1.4h0.95v1.4zM359.53 462.4v-2.1h0.95v2.1zM360.22 462.4v-1.9h0.95v1.9zM364.36 462.4v-1.6h0.95v1.6zM365.05 462.4v-1.4h0.95v1.4zM365.74 462.4v-1.3h0.95v1.3zM366.43 462.4v-2.1h0.95v2.1zM367.12 462.4v-2.1h0.95v2.1zM367.81 462.4v-2.1h0.95v2.1zM375.40 462.4v-2.2h0.95v2.2zM376.09 462.4v-1.9h0.95v1.9zM376.78 462.4v-1.9h0.95v1.9zM377.47 462.4v-1.9h0.95v1.9zM382.30 462.4v-1.7h0.95v1.7zM382.99 462.4v-4.2h0.95v4.2zM383.68 462.4v-3.9h0.95v3.9zM384.37 462.4v-2.1h0.95v2.1zM385.06 462.4v-3.0h0.95v3.0zM385.75 462.4v-1.7h0.95v1.7zM386.44 462.4v-3.8h0.95v3.8zM387.13 462.4v-1.3h0.95v1.3zM392.65 462.4v-4.0h0.95v4.0zM393.34 462.4v-2.2h0.95v2.2zM394.03 462.4v-3.8h0.95v3.8zM394.72 462.4v-2.6h0.95v2.6zM395.41 462.4v-4.2h0.95v4.2zM400.93 462.4v-2.4h0.95v2.4zM403.00 462.4v-3.4h0.95v3.4zM411.28 462.4v-2.1h0.95v2.1zM411.97 462.4v-3.6h0.95v3.6zM412.66 462.4v-2.3h0.95v2.3zM413.35 462.4v-4.3h0.95v4.3zM414.04 462.4v-3.1h0.95v3.1zM416.80 462.4v-1.7h0.95v1.7zM424.39 462.4v-2.1h0.95v2.1zM425.08 462.4v-2.4h0.95v2.4zM428.53 462.4v-2.8h0.95v2.8zM429.22 462.4v-2.4h0.95v2.4zM429.91 462.4v-2.2h0.95v2.2zM430.60 462.4v-0.8h0.95v0.8zM431.29 462.4v-1.5h0.95v1.5zM431.98 462.4v-1.5h0.95v1.5zM432.67 462.4v-2.2h0.95v2.2zM433.36 462.4v-1.0h0.95v1.0zM434.05 462.4v-1.9h0.95v1.9zM434.74 462.4v-2.4h0.95v2.4zM436.12 462.4v-2.4h0.95v2.4zM436.81 462.4v-2.7h0.95v2.7zM437.50 462.4v-1.9h0.95v1.9zM444.40 462.4v-1.7h0.95v1.7zM445.09 462.4v-1.5h0.95v1.5zM445.78 462.4v-1.0h0.95v1.0zM446.47 462.4v-2.6h0.95v2.6zM447.16 462.4v-1.4h0.95v1.4zM450.61 462.4v-2.0h0.95v2.0zM456.82 462.4v-1.9h0.95v1.9zM457.51 462.4v-1.0h0.95v1.0zM458.20 462.4v-0.9h0.95v0.9zM458.89 462.4v-1.2h0.95v1.2zM459.58 462.4v-2.8h0.95v2.8zM464.41 462.4v-0.9h0.95v0.9zM465.10 462.4v-1.9h0.95v1.9zM465.79 462.4v-1.0h0.95v1.0zM466.48 462.4v-1.6h0.95v1.6zM474.76 462.4v-1.8h0.95v1.8zM475.45 462.4v-2.9h0.95v2.9zM476.14 462.4v-2.5h0.95v2.5zM483.04 462.4v-2.3h0.95v2.3zM483.73 462.4v-2.0h0.95v2.0zM484.42 462.4v-2.4h0.95v2.4zM485.11 462.4v-1.4h0.95v1.4zM485.80 462.4v-1.3h0.95v1.3zM494.77 462.4v-2.0h0.95v2.0zM495.46 462.4v-2.7h0.95v2.7zM496.15 462.4v-1.0h0.95v1.0zM496.84 462.4v-2.4h0.95v2.4zM500.98 462.4v-1.7h0.95v1.7zM501.67 462.4v-1.6h0.95v1.6zM502.36 462.4v-1.5h0.95v1.5zM503.05 462.4v-2.0h0.95v2.0zM503.74 462.4v-0.9h0.95v0.9zM504.43 462.4v-0.9h0.95v0.9zM511.33 462.4v-1.2h0.95v1.2zM520.30 462.4v-1.0h0.95v1.0zM520.99 462.4v-1.3h0.95v1.3zM521.68 462.4v-1.4h0.95v1.4zM522.37 462.4v-2.3h0.95v2.3zM523.06 462.4v-1.2h0.95v1.2zM523.75 462.4v-1.3h0.95v1.3zM524.44 462.4v-2.2h0.95v2.2zM527.20 462.4v-1.3h0.95v1.3zM527.89 462.4v-1.4h0.95v1.4zM528.58 462.4v-2.7h0.95v2.7zM529.27 462.4v-2.2h0.95v2.2zM529.96 462.4v-1.4h0.95v1.4zM534.11 462.4v-1.9h0.95v1.9zM534.80 462.4v-1.7h0.95v1.7zM535.49 462.4v-2.0h0.95v2.0zM536.18 462.4v-2.9h0.95v2.9zM536.87 462.4v-1.2h0.95v1.2zM537.56 462.4v-1.2h0.95v1.2zM550.67 462.4v-2.1h0.95v2.1zM551.36 462.4v-3.4h0.95v3.4zM557.57 462.4v-5.6h0.95v5.6zM558.26 462.4v-1.8h0.95v1.8zM558.95 462.4v-3.5h0.95v3.5zM559.64 462.4v-5.3h0.95v5.3zM560.33 462.4v-3.0h0.95v3.0zM561.02 462.4v-4.1h0.95v4.1zM567.23 462.4v-4.5h0.95v4.5zM571.37 462.4v-3.2h0.95v3.2zM572.06 462.4v-1.3h0.95v1.3zM572.75 462.4v-2.4h0.95v2.4zM573.44 462.4v-0.9h0.95v0.9zM574.13 462.4v-1.7h0.95v1.7zM574.82 462.4v-1.6h0.95v1.6zM575.51 462.4v-1.3h0.95v1.3zM577.58 462.4v-2.3h0.95v2.3zM578.27 462.4v-1.9h0.95v1.9zM579.65 462.4v-1.0h0.95v1.0zM580.34 462.4v-2.0h0.95v2.0zM581.03 462.4v-2.7h0.95v2.7zM581.72 462.4v-2.8h0.95v2.8zM582.41 462.4v-2.2h0.95v2.2zM583.10 462.4v-2.3h0.95v2.3zM587.24 462.4v-1.4h0.95v1.4zM587.93 462.4v-2.8h0.95v2.8zM588.62 462.4v-2.7h0.95v2.7zM589.31 462.4v-1.1h0.95v1.1zM590.00 462.4v-2.3h0.95v2.3zM590.69 462.4v-2.7h0.95v2.7zM591.38 462.4v-1.2h0.95v1.2zM592.07 462.4v-2.6h0.95v2.6zM592.76 462.4v-2.7h0.95v2.7zM593.45 462.4v-1.2h0.95v1.2zM594.14 462.4v-1.3h0.95v1.3zM596.21 462.4v-1.2h0.95v1.2zM596.90 462.4v-1.2h0.95v1.2zM597.59 462.4v-1.8h0.95v1.8zM598.28 462.4v-1.4h0.95v1.4zM598.97 462.4v-2.9h0.95v2.9zM599.66 462.4v-2.2h0.95v2.2zM600.35 462.4v-2.6h0.95v2.6zM601.04 462.4v-1.2h0.95v1.2zM601.73 462.4v-1.0h0.95v1.0zM602.42 462.4v-2.2h0.95v2.2zM603.11 462.4v-1.6h0.95v1.6zM603.80 462.4v-1.4h0.95v1.4zM608.63 462.4v-1.1h0.95v1.1zM609.32 462.4v-1.3h0.95v1.3zM610.01 462.4v-2.5h0.95v2.5zM614.15 462.4v-1.4h0.95v1.4zM614.84 462.4v-1.8h0.95v1.8zM615.53 462.4v-1.2h0.95v1.2zM616.22 462.4v-1.1h0.95v1.1zM616.91 462.4v-1.2h0.95v1.2zM617.60 462.4v-1.7h0.95v1.7zM618.29 462.4v-1.8h0.95v1.8zM618.98 462.4v-2.2h0.95v2.2zM619.67 462.4v-1.3h0.95v1.3zM620.36 462.4v-2.3h0.95v2.3zM621.05 462.4v-2.2h0.95v2.2zM621.74 462.4v-1.1h0.95v1.1zM622.43 462.4v-1.2h0.95v1.2zM632.09 462.4v-2.2h0.95v2.2zM632.78 462.4v-2.2h0.95v2.2zM633.47 462.4v-2.8h0.95v2.8zM634.16 462.4v-2.6h0.95v2.6zM634.85 462.4v-1.3h0.95v1.3zM640.37 462.4v-1.2h0.95v1.2zM641.06 462.4v-2.4h0.95v2.4zM641.75 462.4v-1.5h0.95v1.5zM642.44 462.4v-2.3h0.95v2.3zM643.13 462.4v-2.3h0.95v2.3zM643.82 462.4v-1.8h0.95v1.8zM644.51 462.4v-1.3h0.95v1.3zM648.65 462.4v-0.9h0.95v0.9zM649.34 462.4v-1.8h0.95v1.8zM650.03 462.4v-2.0h0.95v2.0zM650.72 462.4v-2.6h0.95v2.6zM651.41 462.4v-1.0h0.95v1.0zM652.10 462.4v-0.9h0.95v0.9zM654.86 462.4v-1.6h0.95v1.6zM655.55 462.4v-1.5h0.95v1.5zM656.24 462.4v-2.7h0.95v2.7zM656.93 462.4v-0.9h0.95v0.9zM659.00 462.4v-1.7h0.95v1.7zM659.69 462.4v-2.2h0.95v2.2zM660.38 462.4v-1.8h0.95v1.8zM661.07 462.4v-3.3h0.95v3.3zM661.76 462.4v-3.4h0.95v3.4zM662.45 462.4v-1.2h0.95v1.2zM663.14 462.4v-1.4h0.95v1.4zM663.83 462.4v-2.4h0.95v2.4zM664.52 462.4v-1.9h0.95v1.9zM669.35 462.4v-1.1h0.95v1.1zM670.04 462.4v-2.5h0.95v2.5zM670.73 462.4v-3.3h0.95v3.3zM671.42 462.4v-3.1h0.95v3.1zM677.63 462.4v-1.5h0.95v1.5zM678.32 462.4v-2.7h0.95v2.7zM679.01 462.4v-1.8h0.95v1.8zM679.70 462.4v-2.2h0.95v2.2zM680.39 462.4v-2.0h0.95v2.0zM681.08 462.4v-2.9h0.95v2.9zM681.77 462.4v-2.4h0.95v2.4zM683.84 462.4v-3.4h0.95v3.4zM684.53 462.4v-3.7h0.95v3.7zM686.60 462.4v-1.2h0.95v1.2zM687.29 462.4v-2.7h0.95v2.7zM687.98 462.4v-2.2h0.95v2.2zM688.67 462.4v-2.4h0.95v2.4zM694.88 462.4v-2.8h0.95v2.8zM695.57 462.4v-1.4h0.95v1.4zM696.26 462.4v-3.0h0.95v3.0zM696.95 462.4v-1.8h0.95v1.8zM697.64 462.4v-1.6h0.95v1.6zM698.33 462.4v-2.7h0.95v2.7zM700.40 462.4v-2.9h0.95v2.9zM701.09 462.4v-3.2h0.95v3.2zM701.78 462.4v-3.6h0.95v3.6zM702.47 462.4v-1.8h0.95v1.8zM703.16 462.4v-1.8h0.95v1.8zM710.75 462.4v-2.1h0.95v2.1zM711.44 462.4v-1.9h0.95v1.9zM714.20 462.4v-2.1h0.95v2.1zM714.89 462.4v-2.9h0.95v2.9zM715.58 462.4v-2.5h0.95v2.5zM716.27 462.4v-3.2h0.95v3.2zM716.96 462.4v-1.4h0.95v1.4zM717.65 462.4v-2.6h0.95v2.6zM721.10 462.4v-1.8h0.95v1.8zM721.79 462.4v-2.1h0.95v2.1zM723.86 462.4v-2.6h0.95v2.6zM724.55 462.4v-1.5h0.95v1.5zM725.24 462.4v-1.1h0.95v1.1zM728.00 462.4v-3.7h0.95v3.7zM728.69 462.4v-2.2h0.95v2.2zM732.14 462.4v-1.7h0.95v1.7zM732.83 462.4v-1.6h0.95v1.6zM733.52 462.4v-1.8h0.95v1.8zM734.21 462.4v-1.7h0.95v1.7zM734.90 462.4v-3.2h0.95v3.2zM735.59 462.4v-1.5h0.95v1.5zM739.73 462.4v-3.4h0.95v3.4zM745.94 462.4v-3.3h0.95v3.3zM746.63 462.4v-2.2h0.95v2.2zM747.32 462.4v-3.5h0.95v3.5zM748.01 462.4v-2.7h0.95v2.7zM758.36 462.4v-1.3h0.95v1.3zM759.05 462.4v-1.4h0.95v1.4zM759.74 462.4v-1.3h0.95v1.3zM760.43 462.4v-0.7h0.95v0.7zM761.12 462.4v-1.4h0.95v1.4zM765.26 462.4v-1.7h0.95v1.7zM768.71 462.4v-0.8h0.95v0.8zM769.40 462.4v-1.3h0.95v1.3zM770.09 462.4v-2.2h0.95v2.2zM770.78 462.4v-1.6h0.95v1.6zM771.47 462.4v-0.7h0.95v0.7zM772.16 462.4v-1.9h0.95v1.9zM775.61 462.4v-1.5h0.95v1.5zM776.30 462.4v-1.6h0.95v1.6zM776.99 462.4v-0.9h0.95v0.9zM777.68 462.4v-2.1h0.95v2.1zM781.13 462.4v-1.6h0.95v1.6zM781.82 462.4v-0.7h0.95v0.7zM782.51 462.4v-2.2h0.95v2.2zM783.20 462.4v-1.6h0.95v1.6zM783.89 462.4v-1.4h0.95v1.4zM791.48 462.4v-0.9h0.95v0.9zM792.17 462.4v-1.0h0.95v1.0zM792.86 462.4v-2.2h0.95v2.2zM793.55 462.4v-2.0h0.95v2.0zM794.24 462.4v-2.0h0.95v2.0zM794.93 462.4v-2.4h0.95v2.4zM795.62 462.4v-0.8h0.95v0.8zM796.31 462.4v-2.2h0.95v2.2zM799.07 462.4v-2.1h0.95v2.1zM799.76 462.4v-1.1h0.95v1.1zM800.45 462.4v-1.8h0.95v1.8zM801.14 462.4v-0.8h0.95v0.8zM801.83 462.4v-1.6h0.95v1.6zM810.80 462.4v-1.3h0.95v1.3zM811.49 462.4v-2.1h0.95v2.1zM812.18 462.4v-1.7h0.95v1.7zM812.87 462.4v-2.2h0.95v2.2zM813.56 462.4v-0.8h0.95v0.8zM817.01 462.4v-2.1h0.95v2.1zM819.77 462.4v-1.0h0.95v1.0zM820.46 462.4v-0.9h0.95v0.9zM830.81 462.4v-1.5h0.95v1.5zM831.50 462.4v-2.3h0.95v2.3zM836.33 462.4v-2.3h0.95v2.3zM837.02 462.4v-1.3h0.95v1.3zM843.92 462.4v-2.6h0.95v2.6zM844.61 462.4v-4.2h0.95v4.2zM845.30 462.4v-2.1h0.95v2.1zM845.99 462.4v-2.6h0.95v2.6zM846.68 462.4v-2.4h0.95v2.4zM847.37 462.4v-3.9h0.95v3.9zM854.27 462.4v-1.5h0.95v1.5zM854.96 462.4v-1.8h0.95v1.8zM855.65 462.4v-2.9h0.95v2.9zM856.34 462.4v-2.8h0.95v2.8zM860.48 462.4v-3.5h0.95v3.5zM861.17 462.4v-4.5h0.95v4.5zM861.86 462.4v-1.5h0.95v1.5zM862.55 462.4v-2.8h0.95v2.8zM863.24 462.4v-2.6h0.95v2.6zM865.31 462.4v-4.0h0.95v4.0zM866.00 462.4v-2.9h0.95v2.9zM866.69 462.4v-1.6h0.95v1.6zM874.97 462.4v-3.0h0.95v3.0zM875.66 462.4v-1.6h0.95v1.6zM876.35 462.4v-3.8h0.95v3.8zM877.04 462.4v-2.2h0.95v2.2zM877.73 462.4v-2.9h0.95v2.9zM879.11 462.4v-2.9h0.95v2.9zM881.87 462.4v-4.5h0.95v4.5zM882.56 462.4v-1.8h0.95v1.8zM883.25 462.4v-1.6h0.95v1.6zM883.94 462.4v-1.7h0.95v1.7zM884.63 462.4v-4.2h0.95v4.2zM900.50 462.4v-3.1h0.95v3.1zM901.19 462.4v-2.9h0.95v2.9zM908.09 462.4v-1.8h0.95v1.8zM908.78 462.4v-2.3h0.95v2.3zM909.47 462.4v-3.9h0.95v3.9zM910.16 462.4v-3.4h0.95v3.4zM910.85 462.4v-3.6h0.95v3.6zM911.54 462.4v-1.4h0.95v1.4zM917.75 462.4v-4.4h0.95v4.4zM918.44 462.4v-3.5h0.95v3.5zM919.13 462.4v-4.0h0.95v4.0zM919.82 462.4v-3.7h0.95v3.7zM920.51 462.4v-1.4h0.95v1.4zM921.20 462.4v-1.9h0.95v1.9zM921.89 462.4v-1.6h0.95v1.6zM922.58 462.4v-3.7h0.95v3.7zM923.96 462.4v-3.2h0.95v3.2zM924.65 462.4v-3.9h0.95v3.9zM925.34 462.4v-4.3h0.95v4.3zM942.59 462.4v-1.4h0.95v1.4z" fill="#559885" fill-opacity="0.92"/>
<path d="M4.88 462.4v-4.0h0.95v4.0zM5.56 462.4v-4.7h0.95v4.7zM6.25 462.4v-2.7h0.95v2.7zM6.94 462.4v-3.9h0.95v3.9zM7.63 462.4v-2.5h0.95v2.5zM22.13 462.4v-3.6h0.95v3.6zM22.82 462.4v-6.3h0.95v6.3zM23.51 462.4v-5.8h0.95v5.8zM28.34 462.4v-3.4h0.95v3.4zM29.03 462.4v-3.3h0.95v3.3zM29.72 462.4v-1.9h0.95v1.9zM40.75 462.4v-4.8h0.95v4.8zM41.44 462.4v-2.3h0.95v2.3zM42.13 462.4v-3.2h0.95v3.2zM42.82 462.4v-1.4h0.95v1.4zM43.51 462.4v-1.5h0.95v1.5zM44.20 462.4v-1.7h0.95v1.7zM44.89 462.4v-1.6h0.95v1.6zM45.58 462.4v-1.1h0.95v1.1zM46.27 462.4v-1.1h0.95v1.1zM46.96 462.4v-2.3h0.95v2.3zM111.13 462.4v-4.2h0.95v4.2zM115.96 462.4v-3.2h0.95v3.2zM116.65 462.4v-1.8h0.95v1.8zM117.34 462.4v-1.6h0.95v1.6zM118.03 462.4v-4.8h0.95v4.8zM118.72 462.4v-1.6h0.95v1.6zM122.86 462.4v-2.4h0.95v2.4zM123.55 462.4v-2.0h0.95v2.0zM124.24 462.4v-1.6h0.95v1.6zM133.90 462.4v-3.0h0.95v3.0zM134.59 462.4v-4.5h0.95v4.5zM143.56 462.4v-2.3h0.95v2.3zM158.05 462.4v-2.8h0.95v2.8zM158.74 462.4v-2.5h0.95v2.5zM159.43 462.4v-3.3h0.95v3.3zM160.12 462.4v-2.6h0.95v2.6zM160.81 462.4v-1.9h0.95v1.9zM179.44 462.4v-1.1h0.95v1.1zM189.10 462.4v-2.8h0.95v2.8zM189.79 462.4v-2.5h0.95v2.5zM190.48 462.4v-3.3h0.95v3.3zM191.17 462.4v-2.7h0.95v2.7zM191.86 462.4v-3.4h0.95v3.4zM200.83 462.4v-1.3h0.95v1.3zM224.98 462.4v-1.8h0.95v1.8zM225.67 462.4v-1.4h0.95v1.4zM226.36 462.4v-3.1h0.95v3.1zM250.51 462.4v-2.5h0.95v2.5zM298.81 462.4v-1.9h0.95v1.9zM329.86 462.4v-1.5h0.95v1.5zM330.55 462.4v-0.9h0.95v0.9zM331.24 462.4v-1.9h0.95v1.9zM331.93 462.4v-2.1h0.95v2.1zM332.62 462.4v-1.1h0.95v1.1zM387.82 462.4v-3.9h0.95v3.9zM388.51 462.4v-1.5h0.95v1.5zM398.86 462.4v-2.3h0.95v2.3zM399.55 462.4v-2.6h0.95v2.6zM400.24 462.4v-3.1h0.95v3.1zM406.45 462.4v-4.0h0.95v4.0zM407.14 462.4v-4.2h0.95v4.2zM407.83 462.4v-1.8h0.95v1.8zM418.87 462.4v-3.2h0.95v3.2zM419.56 462.4v-1.0h0.95v1.0zM420.25 462.4v-1.3h0.95v1.3zM420.94 462.4v-1.1h0.95v1.1zM425.77 462.4v-1.8h0.95v1.8zM426.46 462.4v-2.7h0.95v2.7zM427.15 462.4v-2.1h0.95v2.1zM427.84 462.4v-2.3h0.95v2.3zM435.43 462.4v-2.1h0.95v2.1zM452.68 462.4v-2.1h0.95v2.1zM453.37 462.4v-1.1h0.95v1.1zM454.06 462.4v-2.5h0.95v2.5zM476.83 462.4v-2.5h0.95v2.5zM477.52 462.4v-1.0h0.95v1.0zM478.21 462.4v-1.0h0.95v1.0zM478.90 462.4v-2.7h0.95v2.7zM486.49 462.4v-1.3h0.95v1.3zM487.18 462.4v-2.6h0.95v2.6zM487.87 462.4v-2.8h0.95v2.8zM488.56 462.4v-1.8h0.95v1.8zM507.19 462.4v-2.6h0.95v2.6zM507.88 462.4v-1.2h0.95v1.2zM508.57 462.4v-2.6h0.95v2.6zM509.26 462.4v-2.2h0.95v2.2zM517.54 462.4v-2.3h0.95v2.3zM518.23 462.4v-1.1h0.95v1.1zM518.92 462.4v-2.2h0.95v2.2zM519.61 462.4v-2.7h0.95v2.7zM525.13 462.4v-1.6h0.95v1.6zM525.82 462.4v-2.2h0.95v2.2zM526.51 462.4v-2.6h0.95v2.6zM541.70 462.4v-3.2h0.95v3.2zM542.39 462.4v-5.5h0.95v5.5zM543.08 462.4v-3.7h0.95v3.7zM543.77 462.4v-2.4h0.95v2.4zM544.46 462.4v-3.9h0.95v3.9zM561.71 462.4v-3.7h0.95v3.7zM562.40 462.4v-4.6h0.95v4.6zM563.09 462.4v-5.2h0.95v5.2zM563.78 462.4v-1.7h0.95v1.7zM565.85 462.4v-4.2h0.95v4.2zM566.54 462.4v-1.8h0.95v1.8zM567.92 462.4v-4.7h0.95v4.7zM568.61 462.4v-4.8h0.95v4.8zM569.30 462.4v-4.8h0.95v4.8zM569.99 462.4v-3.7h0.95v3.7zM570.68 462.4v-4.3h0.95v4.3zM611.39 462.4v-1.7h0.95v1.7zM612.08 462.4v-2.6h0.95v2.6zM612.77 462.4v-1.6h0.95v1.6zM613.46 462.4v-1.3h0.95v1.3zM645.20 462.4v-1.4h0.95v1.4zM645.89 462.4v-2.7h0.95v2.7zM646.58 462.4v-2.7h0.95v2.7zM647.27 462.4v-1.1h0.95v1.1zM647.96 462.4v-2.7h0.95v2.7zM685.22 462.4v-3.4h0.95v3.4zM693.50 462.4v-3.3h0.95v3.3zM694.19 462.4v-3.3h0.95v3.3zM712.13 462.4v-1.7h0.95v1.7zM712.82 462.4v-3.0h0.95v3.0zM713.51 462.4v-2.2h0.95v2.2zM725.93 462.4v-2.9h0.95v2.9zM726.62 462.4v-1.1h0.95v1.1zM727.31 462.4v-2.0h0.95v2.0zM742.49 462.4v-2.1h0.95v2.1zM743.18 462.4v-3.2h0.95v3.2zM743.87 462.4v-3.3h0.95v3.3zM744.56 462.4v-3.1h0.95v3.1zM745.25 462.4v-3.6h0.95v3.6zM802.52 462.4v-2.2h0.95v2.2zM803.21 462.4v-0.8h0.95v0.8zM803.90 462.4v-1.5h0.95v1.5zM804.59 462.4v-0.8h0.95v0.8zM805.28 462.4v-2.3h0.95v2.3zM805.97 462.4v-0.8h0.95v0.8zM806.66 462.4v-2.3h0.95v2.3zM807.35 462.4v-2.1h0.95v2.1zM808.04 462.4v-1.0h0.95v1.0zM809.42 462.4v-2.1h0.95v2.1zM810.11 462.4v-0.9h0.95v0.9zM848.06 462.4v-1.6h0.95v1.6zM848.75 462.4v-3.4h0.95v3.4zM849.44 462.4v-2.7h0.95v2.7zM850.13 462.4v-1.9h0.95v1.9zM850.82 462.4v-3.8h0.95v3.8zM853.58 462.4v-3.4h0.95v3.4zM867.38 462.4v-1.3h0.95v1.3zM885.32 462.4v-1.8h0.95v1.8zM886.01 462.4v-4.4h0.95v4.4zM886.70 462.4v-3.0h0.95v3.0zM887.39 462.4v-2.6h0.95v2.6zM888.08 462.4v-3.2h0.95v3.2zM888.77 462.4v-2.6h0.95v2.6zM930.86 462.4v-2.0h0.95v2.0zM931.55 462.4v-1.8h0.95v1.8zM941.21 462.4v-1.3h0.95v1.3zM941.90 462.4v-1.4h0.95v1.4zM943.97 462.4v-1.8h0.95v1.8zM944.66 462.4v-1.6h0.95v1.6zM945.35 462.4v-0.9h0.95v0.9zM948.80 462.4v-0.8h0.95v0.8zM949.49 462.4v-1.2h0.95v1.2zM950.18 462.4v-2.1h0.95v2.1zM950.87 462.4v-0.9h0.95v0.9zM951.56 462.4v-1.5h0.95v1.5zM952.25 462.4v-0.7h0.95v0.7zM952.94 462.4v-1.4h0.95v1.4zM953.63 462.4v-1.0h0.95v1.0zM954.32 462.4v-1.9h0.95v1.9zM955.01 462.4v-1.5h0.95v1.5zM955.70 462.4v-1.4h0.95v1.4zM956.39 462.4v-1.5h0.95v1.5zM957.08 462.4v-1.5h0.95v1.5zM957.77 462.4v-1.6h0.95v1.6zM958.46 462.4v-2.1h0.95v2.1zM959.15 462.4v-1.2h0.95v1.2zM959.84 462.4v-0.7h0.95v0.7zM960.53 462.4v-2.1h0.95v2.1zM961.22 462.4v-1.8h0.95v1.8zM961.91 462.4v-1.3h0.95v1.3zM962.60 462.4v-1.8h0.95v1.8zM963.29 462.4v-1.4h0.95v1.4zM963.98 462.4v-1.7h0.95v1.7zM964.67 462.4v-1.5h0.95v1.5zM965.36 462.4v-2.0h0.95v2.0zM966.05 462.4v-1.5h0.95v1.5zM966.74 462.4v-2.3h0.95v2.3zM967.43 462.4v-0.8h0.95v0.8zM968.12 462.4v-1.5h0.95v1.5zM968.81 462.4v-1.7h0.95v1.7zM969.50 462.4v-1.9h0.95v1.9zM970.19 462.4v-1.6h0.95v1.6zM970.88 462.4v-1.1h0.95v1.1zM971.57 462.4v-2.0h0.95v2.0zM972.26 462.4v-1.3h0.95v1.3zM972.95 462.4v-1.9h0.95v1.9zM973.64 462.4v-1.4h0.95v1.4zM974.33 462.4v-0.8h0.95v0.8zM975.02 462.4v-1.0h0.95v1.0zM975.71 462.4v-1.4h0.95v1.4zM976.40 462.4v-1.6h0.95v1.6zM977.09 462.4v-1.3h0.95v1.3zM977.78 462.4v-1.1h0.95v1.1zM978.47 462.4v-0.8h0.95v0.8zM979.16 462.4v-1.2h0.95v1.2zM979.85 462.4v-2.1h0.95v2.1zM980.54 462.4v-0.7h0.95v0.7zM981.23 462.4v-1.9h0.95v1.9zM981.92 462.4v-0.9h0.95v0.9zM982.61 462.4v-1.5h0.95v1.5zM983.30 462.4v-1.5h0.95v1.5zM983.99 462.4v-1.4h0.95v1.4zM984.68 462.4v-2.3h0.95v2.3zM985.37 462.4v-2.0h0.95v2.0zM986.06 462.4v-0.8h0.95v0.8z" fill="#7c9289" fill-opacity="0.88"/>
<path d="M2.52 462.4v-5.0h0.95v5.0zM3.52 462.4v-4.0h0.95v4.0zM4.53 462.4v-4.0h0.95v4.0zM6.53 462.4v-8.0h0.95v8.0zM7.53 462.4v-5.0h0.95v5.0zM9.53 462.4v-12.0h0.95v12.0zM12.53 462.4v-10.0h0.95v10.0zM17.52 462.4v-10.0h0.95v10.0zM18.52 462.4v-5.0h0.95v5.0zM19.52 462.4v-5.0h0.95v5.0zM21.02 462.4v-24.0h0.95v24.0zM21.82 462.4v-20.0h0.95v20.0zM22.52 462.4v-37.0h0.95v37.0zM23.22 462.4v-45.0h0.95v45.0zM23.92 462.4v-57.0h0.95v57.0zM24.62 462.4v-57.0h0.95v57.0zM25.32 462.4v-57.0h0.95v57.0zM25.92 462.4v-50.0h0.95v50.0zM26.52 462.4v-29.0h0.95v29.0zM27.32 462.4v-30.0h0.95v30.0zM28.02 462.4v-46.0h0.95v46.0zM28.72 462.4v-30.0h0.95v30.0zM29.32 462.4v-27.0h0.95v27.0zM36.52 462.4v-14.7h0.95v14.7zM37.23 462.4v-14.0h0.95v14.0zM37.92 462.4v-12.0h0.95v12.0zM38.73 462.4v-14.0h0.95v14.0zM39.52 462.4v-13.0h0.95v13.0zM42.52 462.4v-3.0h0.95v3.0zM45.02 462.4v-14.0h0.95v14.0zM45.82 462.4v-8.0h0.95v8.0zM49.12 462.4v-8.0h0.95v8.0zM50.73 462.4v-7.0h0.95v7.0zM52.02 462.4v-17.0h0.95v17.0zM53.82 462.4v-8.0h0.95v8.0zM54.82 462.4v-14.0h0.95v14.0zM55.52 462.4v-5.0h0.95v5.0zM69.53 462.4v-3.0h0.95v3.0zM78.83 462.4v-19.0h0.95v19.0zM80.53 462.4v-7.0h0.95v7.0zM83.03 462.4v-11.0h0.95v11.0zM84.53 462.4v-5.0h0.95v5.0zM87.53 462.4v-5.0h0.95v5.0zM89.03 462.4v-15.5h0.95v15.5zM90.03 462.4v-10.0h0.95v10.0zM91.03 462.4v-25.5h0.95v25.5zM91.83 462.4v-10.0h0.95v10.0zM101.53 462.4v-7.0h0.95v7.0zM104.53 462.4v-10.5h0.95v10.5zM105.53 462.4v-5.0h0.95v5.0zM107.53 462.4v-5.0h0.95v5.0zM109.23 462.4v-19.0h0.95v19.0zM110.03 462.4v-5.0h0.95v5.0zM112.53 462.4v-4.0h0.95v4.0zM117.53 462.4v-5.0h0.95v5.0zM119.03 462.4v-5.0h0.95v5.0zM120.53 462.4v-5.0h0.95v5.0zM122.03 462.4v-13.0h0.95v13.0zM124.53 462.4v-8.0h0.95v8.0zM125.53 462.4v-15.5h0.95v15.5zM127.53 462.4v-12.0h0.95v12.0zM128.53 462.4v-12.0h0.95v12.0zM129.53 462.4v-5.0h0.95v5.0zM131.53 462.4v-5.0h0.95v5.0zM138.83 462.4v-6.0h0.95v6.0zM141.53 462.4v-8.0h0.95v8.0zM142.53 462.4v-8.0h0.95v8.0zM146.53 462.4v-4.0h0.95v4.0zM157.53 462.4v-3.0h0.95v3.0zM167.53 462.4v-4.0h0.95v4.0zM174.03 462.4v-6.0h0.95v6.0zM175.53 462.4v-14.0h0.95v14.0zM176.53 462.4v-6.0h0.95v6.0zM177.53 462.4v-5.0h0.95v5.0zM180.53 462.4v-5.0h0.95v5.0zM188.53 462.4v-9.0h0.95v9.0zM189.53 462.4v-10.0h0.95v10.0zM190.53 462.4v-6.0h0.95v6.0zM193.53 462.4v-5.0h0.95v5.0zM195.53 462.4v-6.0h0.95v6.0zM197.03 462.4v-5.0h0.95v5.0zM198.53 462.4v-10.0h0.95v10.0zM199.33 462.4v-10.5h0.95v10.5zM200.03 462.4v-10.0h0.95v10.0zM201.03 462.4v-4.0h0.95v4.0zM202.53 462.4v-3.0h0.95v3.0zM205.53 462.4v-5.0h0.95v5.0zM207.53 462.4v-3.0h0.95v3.0zM217.53 462.4v-4.0h0.95v4.0zM226.53 462.4v-4.0h0.95v4.0zM229.03 462.4v-5.0h0.95v5.0zM230.03 462.4v-7.0h0.95v7.0zM231.53 462.4v-3.0h0.95v3.0zM234.03 462.4v-9.0h0.95v9.0zM239.53 462.4v-2.0h0.95v2.0zM254.53 462.4v-5.0h0.95v5.0zM258.02 462.4v-8.0h0.95v8.0zM260.02 462.4v-7.0h0.95v7.0zM276.02 462.4v-5.0h0.95v5.0zM277.52 462.4v-3.0h0.95v3.0zM280.52 462.4v-3.0h0.95v3.0zM286.52 462.4v-4.0h0.95v4.0zM294.52 462.4v-4.0h0.95v4.0zM296.52 462.4v-2.0h0.95v2.0zM318.52 462.4v-6.0h0.95v6.0zM321.52 462.4v-2.0h0.95v2.0zM362.02 462.4v-5.0h0.95v5.0zM363.52 462.4v-3.0h0.95v3.0zM367.02 462.4v-4.0h0.95v4.0zM369.52 462.4v-3.0h0.95v3.0zM372.52 462.4v-6.0h0.95v6.0zM373.52 462.4v-3.0h0.95v3.0zM383.02 462.4v-14.0h0.95v14.0zM384.02 462.4v-9.0h0.95v9.0zM385.82 462.4v-8.0h0.95v8.0zM390.02 462.4v-20.0h0.95v20.0zM391.02 462.4v-12.0h0.95v12.0zM391.82 462.4v-8.0h0.95v8.0zM402.52 462.4v-11.0h0.95v11.0zM403.32 462.4v-8.0h0.95v8.0zM404.02 462.4v-8.0h0.95v8.0zM405.52 462.4v-6.0h0.95v6.0zM406.52 462.4v-4.0h0.95v4.0zM415.02 462.4v-6.0h0.95v6.0zM416.52 462.4v-3.0h0.95v3.0zM423.52 462.4v-2.0h0.95v2.0zM434.82 462.4v-12.0h0.95v12.0zM436.52 462.4v-2.0h0.95v2.0zM442.02 462.4v-7.0h0.95v7.0zM443.82 462.4v-9.0h0.95v9.0zM451.52 462.4v-4.0h0.95v4.0zM454.52 462.4v-5.0h0.95v5.0zM462.02 462.4v-11.0h0.95v11.0zM464.52 462.4v-3.0h0.95v3.0zM479.02 462.4v-7.0h0.95v7.0zM480.52 462.4v-3.0h0.95v3.0zM497.02 462.4v-9.0h0.95v9.0zM498.02 462.4v-8.0h0.95v8.0zM499.02 462.4v-14.0h0.95v14.0zM499.82 462.4v-9.0h0.95v9.0zM500.52 462.4v-8.0h0.95v8.0zM501.52 462.4v-4.0h0.95v4.0zM503.52 462.4v-2.0h0.95v2.0zM510.52 462.4v-5.0h0.95v5.0zM518.52 462.4v-2.0h0.95v2.0zM523.02 462.4v-8.0h0.95v8.0zM525.52 462.4v-2.0h0.95v2.0zM528.23 462.4v-8.0h0.95v8.0zM541.52 462.4v-3.0h0.95v3.0zM550.52 462.4v-9.0h0.95v9.0zM551.52 462.4v-6.0h0.95v6.0zM554.52 462.4v-5.0h0.95v5.0zM555.52 462.4v-5.0h0.95v5.0zM556.52 462.4v-5.0h0.95v5.0zM558.02 462.4v-17.0h0.95v17.0zM559.12 462.4v-52.0h0.95v52.0zM560.02 462.4v-12.0h0.95v12.0zM561.02 462.4v-8.0h0.95v8.0zM569.02 462.4v-5.0h0.95v5.0zM572.52 462.4v-3.0h0.95v3.0zM580.52 462.4v-8.0h0.95v8.0zM582.52 462.4v-2.0h0.95v2.0zM600.52 462.4v-3.0h0.95v3.0zM605.52 462.4v-2.0h0.95v2.0zM609.52 462.4v-4.0h0.95v4.0zM611.02 462.4v-4.0h0.95v4.0zM612.52 462.4v-4.0h0.95v4.0zM618.02 462.4v-6.0h0.95v6.0zM619.52 462.4v-3.0h0.95v3.0zM621.02 462.4v-6.0h0.95v6.0zM623.52 462.4v-2.0h0.95v2.0zM654.52 462.4v-1.0h0.95v1.0zM657.02 462.4v-10.0h0.95v10.0zM658.12 462.4v-24.0h0.95v24.0zM658.92 462.4v-10.0h0.95v10.0zM668.02 462.4v-4.0h0.95v4.0zM671.52 462.4v-2.0h0.95v2.0zM678.02 462.4v-6.0h0.95v6.0zM679.52 462.4v-3.0h0.95v3.0zM686.52 462.4v-2.0h0.95v2.0zM693.02 462.4v-7.0h0.95v7.0zM698.52 462.4v-2.0h0.95v2.0zM712.52 462.4v-2.0h0.95v2.0zM726.02 462.4v-4.0h0.95v4.0zM727.52 462.4v-5.0h0.95v5.0zM729.02 462.4v-6.0h0.95v6.0zM730.52 462.4v-6.0h0.95v6.0zM732.02 462.4v-5.0h0.95v5.0zM733.02 462.4v-5.0h0.95v5.0zM740.52 462.4v-2.0h0.95v2.0zM746.52 462.4v-4.0h0.95v4.0zM749.02 462.4v-8.0h0.95v8.0zM751.52 462.4v-2.0h0.95v2.0zM755.52 462.4v-2.0h0.95v2.0zM761.02 462.4v-12.0h0.95v12.0zM761.82 462.4v-8.0h0.95v8.0zM762.52 462.4v-4.0h0.95v4.0zM783.52 462.4v-2.0h0.95v2.0zM802.52 462.4v-3.0h0.95v3.0zM804.52 462.4v-3.0h0.95v3.0zM810.02 462.4v-3.0h0.95v3.0zM820.52 462.4v-2.0h0.95v2.0zM823.02 462.4v-6.0h0.95v6.0zM825.52 462.4v-2.0h0.95v2.0zM833.82 462.4v-8.0h0.95v8.0zM845.82 462.4v-27.0h0.95v27.0zM846.52 462.4v-10.0h0.95v10.0zM847.23 462.4v-8.0h0.95v8.0zM848.82 462.4v-9.7h0.95v9.7zM849.52 462.4v-6.0h0.95v6.0zM850.52 462.4v-4.0h0.95v4.0zM852.02 462.4v-4.0h0.95v4.0zM853.52 462.4v-4.0h0.95v4.0zM854.82 462.4v-8.0h0.95v8.0zM857.52 462.4v-4.0h0.95v4.0zM859.52 462.4v-2.0h0.95v2.0zM864.02 462.4v-4.0h0.95v4.0zM867.52 462.4v-5.0h0.95v5.0zM869.02 462.4v-5.0h0.95v5.0zM879.82 462.4v-14.0h0.95v14.0zM880.52 462.4v-5.0h0.95v5.0zM881.52 462.4v-4.0h0.95v4.0zM890.02 462.4v-12.0h0.95v12.0zM890.82 462.4v-6.0h0.95v6.0zM891.52 462.4v-4.0h0.95v4.0zM893.02 462.4v-7.0h0.95v7.0zM894.02 462.4v-7.0h0.95v7.0zM895.02 462.4v-7.0h0.95v7.0zM896.52 462.4v-2.0h0.95v2.0zM909.52 462.4v-3.0h0.95v3.0zM912.52 462.4v-9.0h0.95v9.0zM913.32 462.4v-9.0h0.95v9.0zM914.02 462.4v-9.0h0.95v9.0zM915.52 462.4v-14.0h0.95v14.0zM916.23 462.4v-12.0h0.95v12.0zM917.02 462.4v-6.0h0.95v6.0zM927.52 462.4v-3.0h0.95v3.0zM929.02 462.4v-3.0h0.95v3.0zM930.52 462.4v-3.0h0.95v3.0zM933.52 462.4v-2.0h0.95v2.0zM937.82 462.4v-9.0h0.95v9.0zM938.52 462.4v-4.0h0.95v4.0zM940.52 462.4v-2.0h0.95v2.0zM943.52 462.4v-4.0h0.95v4.0zM945.02 462.4v-5.0h0.95v5.0zM946.52 462.4v-4.0h0.95v4.0zM957.52 462.4v-2.0h0.95v2.0z" fill="#c9584d" fill-opacity="0.92"/>
<path d="M1.52 462.4v-14.0h0.95v14.0zM8.53 462.4v-11.0h0.95v11.0zM10.53 462.4v-10.0h0.95v10.0zM14.03 462.4v-14.7h0.95v14.7zM16.52 462.4v-10.0h0.95v10.0zM30.82 462.4v-15.0h0.95v15.0zM31.52 462.4v-13.0h0.95v13.0zM32.52 462.4v-22.0h0.95v22.0zM33.23 462.4v-21.0h0.95v21.0zM33.92 462.4v-20.0h0.95v20.0zM35.52 462.4v-12.0h0.95v12.0zM40.52 462.4v-4.0h0.95v4.0zM41.52 462.4v-3.0h0.95v3.0zM43.52 462.4v-4.0h0.95v4.0zM46.52 462.4v-10.0h0.95v10.0zM48.32 462.4v-9.0h0.95v9.0zM49.92 462.4v-8.0h0.95v8.0zM59.52 462.4v-3.0h0.95v3.0zM63.52 462.4v-6.0h0.95v6.0zM66.53 462.4v-6.0h0.95v6.0zM72.53 462.4v-4.0h0.95v4.0zM75.53 462.4v-6.0h0.95v6.0zM81.53 462.4v-7.0h0.95v7.0zM86.03 462.4v-5.0h0.95v5.0zM92.53 462.4v-13.0h0.95v13.0zM93.53 462.4v-13.0h0.95v13.0zM94.33 462.4v-10.0h0.95v10.0zM95.03 462.4v-12.0h0.95v12.0zM96.03 462.4v-9.0h0.95v9.0zM97.03 462.4v-22.0h0.95v22.0zM98.03 462.4v-12.0h0.95v12.0zM98.83 462.4v-12.0h0.95v12.0zM99.53 462.4v-11.0h0.95v11.0zM100.53 462.4v-7.0h0.95v7.0zM102.53 462.4v-6.0h0.95v6.0zM106.53 462.4v-5.0h0.95v5.0zM111.53 462.4v-5.0h0.95v5.0zM115.53 462.4v-8.0h0.95v8.0zM123.53 462.4v-8.0h0.95v8.0zM126.53 462.4v-17.0h0.95v17.0zM130.53 462.4v-5.0h0.95v5.0zM133.03 462.4v-8.0h0.95v8.0zM134.53 462.4v-5.0h0.95v5.0zM136.03 462.4v-12.0h0.95v12.0zM137.53 462.4v-8.0h0.95v8.0zM140.03 462.4v-14.0h0.95v14.0zM144.53 462.4v-4.0h0.95v4.0zM148.53 462.4v-4.0h0.95v4.0zM151.53 462.4v-3.0h0.95v3.0zM156.03 462.4v-9.0h0.95v9.0zM160.53 462.4v-3.0h0.95v3.0zM164.03 462.4v-10.5h0.95v10.5zM165.53 462.4v-4.0h0.95v4.0zM169.53 462.4v-4.0h0.95v4.0zM164.53 462.4v-8.0h0.95v8.0zM171.03 462.4v-19.0h0.95v19.0zM171.83 462.4v-9.0h0.95v9.0zM172.53 462.4v-12.0h0.95v12.0zM179.53 462.4v-5.0h0.95v5.0zM183.03 462.4v-12.0h0.95v12.0zM183.83 462.4v-8.0h0.95v8.0zM184.53 462.4v-10.0h0.95v10.0zM185.53 462.4v-6.0h0.95v6.0zM187.03 462.4v-17.0h0.95v17.0zM210.53 462.4v-3.0h0.95v3.0zM215.53 462.4v-4.0h0.95v4.0zM219.53 462.4v-6.0h0.95v6.0zM221.53 462.4v-4.0h0.95v4.0zM224.53 462.4v-4.0h0.95v4.0zM228.03 462.4v-8.0h0.95v8.0zM246.03 462.4v-12.0h0.95v12.0zM246.83 462.4v-6.0h0.95v6.0zM247.53 462.4v-5.0h0.95v5.0zM279.02 462.4v-3.0h0.95v3.0zM302.52 462.4v-4.0h0.95v4.0zM306.52 462.4v-5.0h0.95v5.0zM308.02 462.4v-5.0h0.95v5.0zM309.52 462.4v-5.0h0.95v5.0zM311.52 462.4v-3.0h0.95v3.0zM325.52 462.4v-2.0h0.95v2.0zM329.52 462.4v-4.0h0.95v4.0zM332.52 462.4v-4.0h0.95v4.0zM354.02 462.4v-5.0h0.95v5.0zM385.02 462.4v-8.0h0.95v8.0zM386.52 462.4v-8.0h0.95v8.0zM387.52 462.4v-8.0h0.95v8.0zM389.02 462.4v-37.0h0.95v37.0zM392.52 462.4v-5.0h0.95v5.0zM394.02 462.4v-4.0h0.95v4.0zM396.02 462.4v-8.0h0.95v8.0zM397.02 462.4v-6.0h0.95v6.0zM398.52 462.4v-14.7h0.95v14.7zM399.22 462.4v-14.7h0.95v14.7zM399.92 462.4v-12.0h0.95v12.0zM401.02 462.4v-8.0h0.95v8.0zM407.52 462.4v-3.0h0.95v3.0zM410.02 462.4v-7.0h0.95v7.0zM411.52 462.4v-4.0h0.95v4.0zM412.52 462.4v-4.0h0.95v4.0zM413.52 462.4v-4.0h0.95v4.0zM419.52 462.4v-2.0h0.95v2.0zM427.52 462.4v-2.0h0.95v2.0zM439.52 462.4v-2.0h0.95v2.0zM450.02 462.4v-5.0h0.95v5.0zM455.52 462.4v-4.0h0.95v4.0zM458.52 462.4v-2.0h0.95v2.0zM466.52 462.4v-3.0h0.95v3.0zM467.82 462.4v-9.7h0.95v9.7zM471.02 462.4v-5.0h0.95v5.0zM472.72 462.4v-8.0h0.95v8.0zM473.52 462.4v-12.0h0.95v12.0zM476.02 462.4v-5.0h0.95v5.0zM477.52 462.4v-4.0h0.95v4.0zM507.02 462.4v-8.0h0.95v8.0zM508.02 462.4v-5.0h0.95v5.0zM509.82 462.4v-6.0h0.95v6.0zM514.52 462.4v-2.0h0.95v2.0zM531.52 462.4v-2.0h0.95v2.0zM534.52 462.4v-2.0h0.95v2.0zM536.52 462.4v-8.0h0.95v8.0zM537.52 462.4v-4.0h0.95v4.0zM539.52 462.4v-3.0h0.95v3.0zM544.02 462.4v-6.0h0.95v6.0zM546.02 462.4v-9.0h0.95v9.0zM546.82 462.4v-9.0h0.95v9.0zM547.52 462.4v-9.0h0.95v9.0zM549.02 462.4v-22.0h0.95v22.0zM549.82 462.4v-10.0h0.95v10.0zM552.52 462.4v-5.0h0.95v5.0zM562.73 462.4v-12.0h0.95v12.0zM564.52 462.4v-18.0h0.95v18.0zM565.32 462.4v-16.0h0.95v16.0zM566.02 462.4v-15.5h0.95v15.5zM566.82 462.4v-10.0h0.95v10.0zM567.52 462.4v-8.0h0.95v8.0zM570.52 462.4v-3.0h0.95v3.0zM574.52 462.4v-2.0h0.95v2.0zM577.52 462.4v-3.0h0.95v3.0zM584.52 462.4v-2.0h0.95v2.0zM586.52 462.4v-9.0h0.95v9.0zM587.52 462.4v-9.0h0.95v9.0zM588.52 462.4v-9.0h0.95v9.0zM589.52 462.4v-8.0h0.95v8.0zM591.02 462.4v-4.0h0.95v4.0zM594.52 462.4v-1.0h0.95v1.0zM628.52 462.4v-3.0h0.95v3.0zM630.52 462.4v-2.0h0.95v2.0zM633.02 462.4v-4.0h0.95v4.0zM660.52 462.4v-17.0h0.95v17.0zM661.02 462.4v-12.0h0.95v12.0zM661.82 462.4v-10.0h0.95v10.0zM662.52 462.4v-8.0h0.95v8.0zM664.02 462.4v-5.0h0.95v5.0zM665.52 462.4v-3.0h0.95v3.0zM674.52 462.4v-2.0h0.95v2.0zM681.82 462.4v-9.7h0.95v9.7zM683.52 462.4v-2.0h0.95v2.0zM695.52 462.4v-2.0h0.95v2.0zM702.52 462.4v-4.0h0.95v4.0zM704.02 462.4v-5.0h0.95v5.0zM705.52 462.4v-5.0h0.95v5.0zM707.02 462.4v-4.0h0.95v4.0zM709.52 462.4v-2.0h0.95v2.0zM717.02 462.4v-5.0h0.95v5.0zM719.02 462.4v-24.7h0.95v24.7zM720.02 462.4v-10.0h0.95v10.0zM721.23 462.4v-19.7h0.95v19.7zM722.02 462.4v-9.0h0.95v9.0zM722.82 462.4v-9.0h0.95v9.0zM723.52 462.4v-9.0h0.95v9.0zM724.52 462.4v-4.0h0.95v4.0zM734.52 462.4v-8.0h0.95v8.0zM735.52 462.4v-8.0h0.95v8.0zM736.52 462.4v-8.0h0.95v8.0zM737.52 462.4v-8.0h0.95v8.0zM739.02 462.4v-5.0h0.95v5.0zM742.52 462.4v-2.0h0.95v2.0zM745.02 462.4v-9.0h0.95v9.0zM745.82 462.4v-6.0h0.95v6.0zM766.52 462.4v-2.0h0.95v2.0zM791.52 462.4v-1.0h0.95v1.0zM799.02 462.4v-4.0h0.95v4.0zM800.52 462.4v-3.0h0.95v3.0zM816.02 462.4v-14.0h0.95v14.0zM816.82 462.4v-6.0h0.95v6.0zM817.52 462.4v-4.0h0.95v4.0zM828.52 462.4v-1.0h0.95v1.0zM837.52 462.4v-1.0h0.95v1.0zM841.82 462.4v-5.0h0.95v5.0zM843.52 462.4v-2.0h0.95v2.0zM856.52 462.4v-4.0h0.95v4.0zM861.52 462.4v-2.0h0.95v2.0zM872.82 462.4v-11.0h0.95v11.0zM874.52 462.4v-2.0h0.95v2.0zM876.82 462.4v-10.0h0.95v10.0zM877.52 462.4v-6.0h0.95v6.0zM878.32 462.4v-5.0h0.95v5.0zM882.82 462.4v-16.0h0.95v16.0zM883.52 462.4v-16.0h0.95v16.0zM884.32 462.4v-8.0h0.95v8.0zM885.52 462.4v-3.0h0.95v3.0zM888.02 462.4v-6.0h0.95v6.0zM888.82 462.4v-5.0h0.95v5.0zM899.02 462.4v-20.5h0.95v20.5zM899.82 462.4v-11.0h0.95v11.0zM900.52 462.4v-10.0h0.95v10.0zM901.52 462.4v-10.0h0.95v10.0zM902.82 462.4v-8.0h0.95v8.0zM903.82 462.4v-15.5h0.95v15.5zM904.52 462.4v-12.0h0.95v12.0zM905.23 462.4v-10.0h0.95v10.0zM906.02 462.4v-8.0h0.95v8.0zM911.02 462.4v-3.0h0.95v3.0zM918.02 462.4v-4.0h0.95v4.0zM919.02 462.4v-5.0h0.95v5.0zM920.52 462.4v-3.0h0.95v3.0zM922.02 462.4v-3.0h0.95v3.0zM923.52 462.4v-3.0h0.95v3.0zM925.52 462.4v-3.0h0.95v3.0zM949.52 462.4v-2.0h0.95v2.0zM984.02 462.4v-5.0h0.95v5.0zM985.52 462.4v-2.0h0.95v2.0z" fill="#559885" fill-opacity="0.92"/>
<path d="M15.53 462.4v-24.0h0.95v24.0zM30.02 462.4v-26.0h0.95v26.0zM34.73 462.4v-12.0h0.95v12.0zM47.52 462.4v-28.0h0.95v28.0zM53.02 462.4v-10.0h0.95v10.0zM187.72 462.4v-17.0h0.95v17.0zM213.83 462.4v-11.0h0.95v11.0zM432.32 462.4v-12.0h0.95v12.0zM448.52 462.4v-4.0h0.95v4.0zM453.02 462.4v-5.0h0.95v5.0zM470.02 462.4v-12.0h0.95v12.0zM472.02 462.4v-17.0h0.95v17.0zM475.02 462.4v-16.0h0.95v16.0zM484.52 462.4v-2.0h0.95v2.0zM489.52 462.4v-2.0h0.95v2.0zM493.52 462.4v-2.0h0.95v2.0zM509.02 462.4v-9.7h0.95v9.7zM562.02 462.4v-20.0h0.95v20.0zM603.52 462.4v-3.0h0.95v3.0zM614.52 462.4v-5.0h0.95v5.0zM627.23 462.4v-14.7h0.95v14.7zM639.52 462.4v-1.0h0.95v1.0zM647.52 462.4v-1.0h0.95v1.0zM659.82 462.4v-18.0h0.95v18.0zM715.02 462.4v-8.0h0.95v8.0zM764.32 462.4v-15.5h0.95v15.5zM765.02 462.4v-10.0h0.95v10.0zM769.52 462.4v-2.0h0.95v2.0zM774.52 462.4v-2.0h0.95v2.0zM778.52 462.4v-1.0h0.95v1.0zM786.52 462.4v-1.0h0.95v1.0zM914.82 462.4v-28.0h0.95v28.0zM953.52 462.4v-2.0h0.95v2.0zM961.02 462.4v-9.0h0.95v9.0zM962.52 462.4v-1.0h0.95v1.0zM965.52 462.4v-4.0h0.95v4.0zM969.02 462.4v-4.0h0.95v4.0zM971.02 462.4v-4.0h0.95v4.0zM974.02 462.4v-4.0h0.95v4.0zM977.52 462.4v-1.0h0.95v1.0zM980.52 462.4v-1.0h0.95v1.0z" fill="#7c9289" fill-opacity="0.88"/>
<path d="M563.52 462.4v-28.0h0.95v28.0zM781.52 462.4v-17.0h0.95v17.0zM782.23 462.4v-17.0h0.95v17.0zM907.12 462.4v-23.0h0.95v23.0zM907.82 462.4v-12.0h0.95v12.0zM908.52 462.4v-9.0h0.95v9.0z" fill="#e0a098" fill-opacity="0.88"/>
<path d="M192.53 462.4v-12.0h0.95v12.0zM223.03 462.4v-12.0h0.95v12.0zM690.23 462.4v-12.0h0.95v12.0z" fill="#98c6b7" fill-opacity="0.88"/>
<polyline points="1.5,45.0 3.0,51.0 4.0,57.0 4.6,64.0 5.8,54.0 7.3,62.0 8.3,88.0 10.0,108.7 10.8,103.7 12.0,120.0 13.0,119.4 13.6,141.0 14.5,165.0 15.6,171.0 16.9,141.0 18.1,180.0 18.8,147.5 20.0,168.7 21.2,198.0 21.9,223.7 23.1,232.5 23.8,255.0 25.4,300.0 25.8,405.0 26.0,300.0 27.5,276.7 28.4,317.5 29.2,306.0 30.8,290.8 32.0,308.0 33.2,241.5 35.0,270.8 36.2,245.5 38.0,253.0 40.0,297.5 42.5,263.0 44.2,280.0 45.3,278.0 47.5,316.7 49.2,290.0 50.3,301.7 50.8,315.0 51.3,300.0 52.5,335.8 54.2,320.8 55.0,331.7 57.0,290.8 58.3,307.5 59.2,301.7 61.2,282.5 63.7,301.7 64.7,309.0 65.8,305.0 67.0,319.0 68.7,292.5 69.5,301.0 71.7,318.3 73.3,316.7 74.5,307.5 76.3,294.2 78.0,302.0 79.7,325.0 80.8,315.0 82.0,323.0 83.7,372.5 84.7,335.8 85.8,345.0 86.7,365.8 87.5,353.3 89.2,371.7 90.8,378.0 92.0,419.0 94.5,388.3 95.7,418.3 97.4,417.5 99.0,380.0 100.8,349.0 102.0,326.7 103.3,355.0 105.0,325.8 105.8,331.7 107.0,303.3 108.3,316.7 110.0,280.0 111.7,306.7 112.5,305.0 114.0,334.0 115.3,311.7 117.5,341.7 119.2,333.3 120.8,355.0 122.3,370.0 124.0,390.0 125.2,385.8 126.2,423.3 127.5,330.8 128.3,347.5 129.5,335.8 130.7,365.0 131.8,394.0 133.2,380.8 135.6,406.7 137.8,378.0 139.8,408.3 143.1,374.0 144.5,390.0 145.6,381.7 146.5,390.0 148.7,356.7 150.1,392.5 152.3,391.7 154.0,375.8 155.8,361.7 156.7,367.5 158.3,352.5 160.8,371.7 163.3,352.5 165.3,315.8 167.0,328.3 169.2,310.8 170.8,301.7 172.5,283.3 174.2,302.5 175.0,307.5 175.8,317.5 177.5,309.0 179.7,319.0 180.8,295.0 182.0,305.0 183.3,285.0 184.2,271.7 185.5,247.5 186.3,256.7 188.0,216.7 189.2,253.3 190.0,267.5 190.8,262.5 192.0,274.0 193.8,295.8 196.7,265.8 198.2,287.0 200.8,300.0 202.0,298.3 203.8,276.7 204.7,285.0 205.5,275.8 207.2,301.7 209.2,285.8 210.8,267.5 212.2,265.0 213.8,247.5 214.7,263.3 217.0,252.5 219.2,239.2 220.0,268.3 221.7,284.0 222.8,273.3 223.8,281.7 225.8,263.3 227.2,270.0 228.8,250.0 230.8,255.8 233.3,266.7 235.8,279.2 237.5,265.8 238.3,275.8 239.2,270.0 240.8,287.5 241.7,291.7 243.0,296.7 244.2,306.7 245.0,299.2 246.3,308.3 248.0,328.3 250.0,301.7 251.7,316.7 253.3,309.2 255.0,326.7 256.2,320.8 258.3,338.3 261.2,359.2 262.5,346.7 264.2,328.3 266.7,342.5 269.2,321.7 270.8,330.0 273.3,308.3 274.2,312.5 275.3,303.3 277.2,330.0 278.3,329.2 280.3,347.5 282.5,326.7 283.7,319.2 285.8,333.3 286.7,328.3 288.3,346.7 290.0,325.8 291.3,333.3 293.3,320.0 294.2,322.5 295.8,310.8 297.0,310.0 298.7,318.3 300.8,308.3 302.5,299.2 304.2,310.8 305.8,295.0 307.8,283.3 309.2,291.7 310.0,300.0 311.3,286.7 312.5,295.0 313.3,290.8 315.8,310.8 317.5,308.3 318.7,300.0 320.0,327.5 321.7,320.0 322.5,328.3 323.3,322.5 325.0,329.2 326.7,328.3 328.3,336.7 329.2,331.7 331.7,344.2 333.3,335.0 335.0,323.3 336.2,322.5 337.2,312.5 338.7,325.8 339.5,320.0 340.8,328.3 342.0,322.5 344.2,330.0 345.8,337.5 347.5,329.2 350.0,325.0 350.8,332.5 352.5,332.5 354.2,316.7 355.0,303.3 356.3,299.2 358.0,305.0 360.0,324.2 362.2,310.8 363.3,320.0 365.8,325.8 368.0,340.8 369.7,329.2 370.8,340.0 373.0,348.3 373.7,338.3 375.0,350.8 376.7,332.5 378.0,340.8 379.7,330.8 380.8,313.3 382.0,293.3 383.0,285.0 384.6,253.3 385.8,270.0 387.5,256.7 389.6,207.5 391.3,233.3 393.3,217.5 395.8,245.0 398.0,221.7 399.2,193.3 400.0,199.2 401.7,183.3 403.0,168.3 404.7,190.0 405.3,180.0 406.7,195.8 407.5,188.3 408.3,195.0 410.8,167.5 411.7,178.3 413.0,168.3 414.2,171.7 415.3,163.3 416.7,177.5 417.5,175.0 418.7,185.8 420.3,163.3 421.7,181.7 423.3,187.5 424.7,179.2 425.8,188.3 426.7,183.3 427.8,188.3 429.2,172.5 430.8,174.2 431.9,160.0 433.3,123.3 434.6,146.0 435.8,151.7 437.5,160.5 439.2,156.7 440.8,167.5 442.5,149.2 444.2,155.5 445.0,149.0 446.0,158.8 448.3,141.0 450.0,128.0 450.8,136.0 452.0,126.0 453.3,134.2 454.2,126.7 455.8,110.8 457.0,117.5 459.2,139.2 460.3,131.7 461.3,128.3 462.5,139.2 463.3,143.3 465.0,162.5 466.5,160.8 468.0,175.0 469.2,191.7 470.3,175.8 471.2,183.3 472.5,171.7 473.0,178.3 473.9,160.8 474.8,166.5 475.8,159.5 477.3,154.2 478.8,162.0 481.0,172.5 482.7,158.0 484.7,150.4 486.3,158.5 487.3,155.4 488.6,148.3 490.6,157.0 492.7,165.4 494.3,163.3 495.8,150.8 497.5,156.7 498.5,163.0 500.0,174.0 501.5,171.0 503.0,166.0 504.5,163.3 506.7,153.0 508.5,143.8 510.0,141.7 511.7,148.3 512.7,144.5 514.4,146.5 516.7,142.5 518.7,149.2 519.7,154.2 520.8,145.0 522.5,143.3 523.7,134.2 525.0,145.0 526.7,154.2 529.2,165.0 530.3,156.7 532.5,150.0 535.0,138.3 536.7,125.8 538.3,117.5 539.7,123.8 541.7,111.7 542.7,118.0 544.2,135.8 545.0,131.7 546.2,136.0 547.5,94.5 548.7,103.0 550.0,92.0 550.8,77.5 552.0,75.0 553.0,87.5 553.7,83.3 555.0,92.5 555.8,103.0 557.3,95.3 558.5,105.5 559.2,150.0 560.0,180.0 560.5,167.5 561.7,183.3 563.3,198.3 564.2,228.3 565.3,199.0 566.7,219.0 568.3,201.0 569.2,200.8 571.2,192.5 572.4,208.0 573.5,199.5 575.0,211.0 576.0,203.8 578.0,225.0 579.7,214.2 580.8,219.2 582.3,201.5 584.2,199.2 585.4,207.5 587.0,184.2 588.3,179.2 589.2,161.7 590.5,146.7 591.7,165.8 593.0,173.3 594.7,165.0 595.8,174.2 598.0,180.8 599.2,191.7 600.5,186.7 601.7,176.7 603.0,190.8 604.5,179.2 605.8,183.3 607.2,184.2 608.6,200.0 610.3,197.0 611.7,208.0 613.5,214.5 615.8,192.5 617.0,193.3 618.3,201.7 620.3,216.7 621.7,218.3 622.8,204.2 624.6,215.0 626.3,228.3 628.3,205.8 630.3,220.8 631.6,211.7 633.3,198.3 635.0,187.5 636.2,195.8 637.8,180.8 638.3,188.3 639.2,185.0 640.8,197.0 642.0,203.3 643.0,200.0 644.2,205.5 645.0,203.0 646.5,209.0 647.5,207.5 648.3,216.7 649.6,211.0 650.8,220.0 652.0,215.0 653.0,221.7 654.2,217.5 655.8,225.8 657.0,233.3 658.0,240.8 658.8,258.0 659.6,272.0 660.2,300.4 661.2,270.0 662.5,263.3 663.7,268.8 665.3,249.2 667.0,245.0 668.7,235.8 670.0,255.8 671.2,254.2 672.5,241.7 674.2,226.7 675.8,235.0 677.0,239.2 678.3,230.0 679.7,243.3 681.3,233.3 683.0,210.8 684.2,215.0 685.2,211.7 686.7,221.7 688.3,226.7 689.2,221.7 690.3,231.7 692.0,220.8 693.3,232.5 694.7,246.7 695.8,240.8 697.5,245.0 698.7,250.8 700.0,242.5 701.7,235.8 703.3,256.7 705.0,245.0 706.3,232.5 708.3,230.0 710.0,226.7 711.7,220.0 713.7,218.3 715.3,215.5 716.3,202.0 717.5,183.3 719.2,167.5 720.5,185.0 722.2,145.8 723.7,166.7 724.7,143.3 725.8,160.0 727.5,177.5 729.2,163.3 730.8,175.0 732.5,175.8 734.7,195.8 736.3,203.3 737.5,194.2 739.7,172.5 741.7,187.5 743.3,181.7 745.8,151.7 747.5,163.3 750.0,177.5 752.0,166.7 753.3,172.5 755.3,165.8 758.0,185.8 759.2,180.0 761.7,205.0 763.0,191.7 764.2,204.2 764.8,190.8 766.7,188.3 769.2,180.0 770.5,194.2 771.7,177.5 773.3,175.0 775.8,197.5 777.2,198.3 778.3,204.2 779.7,190.0 780.8,195.0 783.0,214.2 785.0,212.5 786.7,203.3 788.0,200.8 789.2,204.2 791.7,191.7 793.3,198.3 795.0,197.5 796.7,200.8 798.3,185.0 800.3,170.0 801.7,175.0 803.3,182.5 805.0,190.8 805.8,185.0 806.7,190.8 808.0,177.5 809.2,181.7 810.0,172.5 811.3,178.3 812.5,180.0 813.8,174.2 815.0,175.0 816.7,155.0 818.3,170.8 820.0,162.5 821.7,168.3 823.0,183.3 824.7,184.2 826.3,192.5 827.5,185.8 828.3,190.0 830.0,179.2 831.7,178.3 833.3,182.5 834.7,210.0 836.2,198.3 837.5,200.8 838.8,212.5 840.3,199.2 841.7,194.2 843.3,184.2 844.2,188.3 845.0,179.2 846.3,150.0 847.5,172.5 848.3,174.2 849.5,190.8 851.2,180.0 852.5,191.7 855.0,202.0 856.3,185.4 858.2,192.5 859.2,187.5 860.8,174.6 862.2,187.5 863.5,178.7 865.0,186.7 866.3,195.0 867.5,188.0 868.7,195.8 869.7,183.3 870.8,195.0 872.5,185.0 874.2,175.8 875.2,183.7 876.9,163.0 879.2,153.7 880.5,163.3 882.2,164.6 883.5,148.3 885.3,159.6 886.7,152.0 888.5,146.0 890.0,134.2 891.3,141.7 892.5,135.8 894.2,143.3 896.0,151.0 897.6,139.6 898.5,142.5 900.0,120.0 901.3,121.7 902.2,129.2 903.7,105.0 904.7,100.0 905.8,88.3 906.7,86.7 907.5,79.2 908.3,98.3 909.7,121.7 910.8,110.8 912.5,95.0 913.7,116.7 915.0,131.7 915.6,147.0 916.2,170.0 917.5,155.8 919.2,151.7 920.5,138.3 922.0,148.0 923.5,151.0 924.5,140.0 925.5,134.5 926.7,134.0 927.7,142.0 928.5,147.0 930.0,160.8 931.2,150.8 932.5,149.2 934.2,140.8 936.0,135.8 937.0,137.5 938.3,118.3 939.2,130.0 940.5,137.5 941.7,129.5 943.2,139.6 944.4,137.5 945.4,144.5 946.2,150.8 947.5,156.7 949.2,136.7 950.6,137.0 951.9,146.3 953.3,140.8 954.7,143.8 956.3,134.6 957.5,140.0 959.0,138.8 960.2,146.0 961.7,159.2 963.3,151.7 965.0,146.0 966.7,132.0 968.0,140.0 968.8,132.9 970.3,141.3 972.0,136.3 974.3,123.2 976.0,129.3 977.0,125.8 978.4,122.3 980.3,133.5 981.8,132.5 982.8,132.8 984.4,140.5 985.5,141.3 986.7,131.5 987.0,138.9" fill="none" stroke="#2a70b2" stroke-width="1.5" stroke-linejoin="round" stroke-linecap="round"/>
<rect x="-10" y="-10" width="1044" height="11.3" fill="#e3e5e8"/>
<rect x="-10" y="-10" width="11.8" height="501" fill="#e2e5e9"/>
<rect x="1021.3" y="-10" width="12.7" height="501" fill="#dfe2e5"/>
<path d="M0 476.5H1021" stroke="#ebecee" stroke-width="1"/>
<path d="M0 462.4H1021.3" stroke="#62666c" stroke-width="0.6"/>
<path d="M993.6 0V476.5" stroke="#55595f" stroke-width="0.7"/>
<path d="M993.6 9.40h2.6M993.6 27.16h2.6M993.6 44.91h2.6M993.6 62.67h2.6M993.6 80.42h2.6M993.6 98.18h2.6M993.6 115.94h2.6M993.6 133.69h2.6M993.6 151.45h2.6M993.6 169.20h2.6M993.6 186.96h2.6M993.6 204.72h2.6M993.6 222.47h2.6M993.6 240.23h2.6M993.6 257.98h2.6M993.6 275.74h2.6M993.6 293.50h2.6M993.6 311.25h2.6M993.6 329.01h2.6M993.6 346.76h2.6M993.6 364.52h2.6M993.6 382.28h2.6M993.6 400.03h2.6M993.6 417.79h2.6M993.6 435.54h2.6M993.6 453.30h2.6M48.00 462.4v1.6M94.47 462.4v1.6M140.95 462.4v1.6M187.43 462.4v1.6M233.90 462.4v1.6M280.38 462.4v1.6M326.85 462.4v1.6M373.32 462.4v1.6M419.80 462.4v1.6M466.28 462.4v1.6M512.75 462.4v1.6M559.23 462.4v1.6M605.70 462.4v1.6M652.18 462.4v1.6M698.65 462.4v1.6M745.12 462.4v1.6M791.60 462.4v1.6M838.08 462.4v1.6M884.55 462.4v1.6M931.02 462.4v1.6M977.50 462.4v1.6" stroke="#555a61" stroke-width="0.7" fill="none"/>
<text class="ax" x="998" y="11.60" textLength="18.4" lengthAdjust="spacingAndGlyphs">272.00</text>
<text class="ax" x="998" y="29.36" textLength="18.4" lengthAdjust="spacingAndGlyphs">270.00</text>
<text class="ax" x="998" y="47.11" textLength="18.4" lengthAdjust="spacingAndGlyphs">268.00</text>
<text class="ax" x="998" y="64.87" textLength="18.4" lengthAdjust="spacingAndGlyphs">266.00</text>
<text class="ax" x="998" y="82.62" textLength="18.4" lengthAdjust="spacingAndGlyphs">264.00</text>
<text class="ax" x="998" y="100.38" textLength="18.4" lengthAdjust="spacingAndGlyphs">262.00</text>
<text class="ax" x="998" y="118.14" textLength="18.4" lengthAdjust="spacingAndGlyphs">260.00</text>
<text class="ax" x="998" y="135.89" textLength="18.4" lengthAdjust="spacingAndGlyphs">258.00</text>
<text class="ax" x="998" y="153.65" textLength="18.4" lengthAdjust="spacingAndGlyphs">256.00</text>
<text class="ax" x="998" y="171.40" textLength="18.4" lengthAdjust="spacingAndGlyphs">254.00</text>
<text class="ax" x="998" y="189.16" textLength="18.4" lengthAdjust="spacingAndGlyphs">252.00</text>
<text class="ax" x="998" y="206.92" textLength="18.4" lengthAdjust="spacingAndGlyphs">250.00</text>
<text class="ax" x="998" y="224.67" textLength="18.4" lengthAdjust="spacingAndGlyphs">248.00</text>
<text class="ax" x="998" y="242.43" textLength="18.4" lengthAdjust="spacingAndGlyphs">246.00</text>
<text class="ax" x="998" y="260.18" textLength="18.4" lengthAdjust="spacingAndGlyphs">244.00</text>
<text class="ax" x="998" y="277.94" textLength="18.4" lengthAdjust="spacingAndGlyphs">242.00</text>
<text class="ax" x="998" y="295.70" textLength="18.4" lengthAdjust="spacingAndGlyphs">240.00</text>
<text class="ax" x="998" y="313.45" textLength="18.4" lengthAdjust="spacingAndGlyphs">238.00</text>
<text class="ax" x="998" y="331.21" textLength="18.4" lengthAdjust="spacingAndGlyphs">236.00</text>
<text class="ax" x="998" y="348.96" textLength="18.4" lengthAdjust="spacingAndGlyphs">234.00</text>
<text class="ax" x="998" y="366.72" textLength="18.4" lengthAdjust="spacingAndGlyphs">232.00</text>
<text class="ax" x="998" y="384.48" textLength="18.4" lengthAdjust="spacingAndGlyphs">230.00</text>
<text class="ax" x="998" y="402.23" textLength="18.4" lengthAdjust="spacingAndGlyphs">228.00</text>
<text class="ax" x="998" y="419.99" textLength="18.4" lengthAdjust="spacingAndGlyphs">226.00</text>
<text class="ax" x="998" y="437.74" textLength="18.4" lengthAdjust="spacingAndGlyphs">224.00</text>
<text class="ax" x="998" y="455.50" textLength="18.4" lengthAdjust="spacingAndGlyphs">222.00</text>
<rect x="993.4" y="133.8" width="27.8" height="9.4" fill="#1f7dc6"/>
<path d="M993.6 138.6h2.6" stroke="#fff" stroke-width="0.7"/>
<text x="998" y="141.1" font-size="6.3" font-weight="bold" fill="#ffffff" textLength="18.3" lengthAdjust="spacingAndGlyphs">257.41</text>
<text class="ax" x="48.00" y="472.5" text-anchor="middle" textLength="15.0" lengthAdjust="spacingAndGlyphs">06:00</text>
<text class="ax" x="94.47" y="472.5" text-anchor="middle" textLength="15.0" lengthAdjust="spacingAndGlyphs">12:00</text>
<text class="ax" x="140.95" y="472.5" text-anchor="middle" textLength="15.0" lengthAdjust="spacingAndGlyphs">18:00</text>
<text class="ax" x="187.43" y="472.5" text-anchor="middle" textLength="6.4" lengthAdjust="spacingAndGlyphs">18</text>
<text class="ax" x="233.90" y="472.5" text-anchor="middle" textLength="15.0" lengthAdjust="spacingAndGlyphs">06:00</text>
<text class="ax" x="280.38" y="472.5" text-anchor="middle" textLength="15.0" lengthAdjust="spacingAndGlyphs">12:00</text>
<text class="ax" x="326.85" y="472.5" text-anchor="middle" textLength="15.0" lengthAdjust="spacingAndGlyphs">18:00</text>
<text class="ax" x="373.32" y="472.5" text-anchor="middle" textLength="6.4" lengthAdjust="spacingAndGlyphs">19</text>
<text class="ax" x="419.80" y="472.5" text-anchor="middle" textLength="15.0" lengthAdjust="spacingAndGlyphs">06:00</text>
<text class="ax" x="466.28" y="472.5" text-anchor="middle" textLength="15.0" lengthAdjust="spacingAndGlyphs">12:00</text>
<text class="ax" x="512.75" y="472.5" text-anchor="middle" textLength="15.0" lengthAdjust="spacingAndGlyphs">18:00</text>
<text class="ax" x="559.23" y="472.5" text-anchor="middle" textLength="6.4" lengthAdjust="spacingAndGlyphs">20</text>
<text class="ax" x="605.70" y="472.5" text-anchor="middle" textLength="15.0" lengthAdjust="spacingAndGlyphs">06:00</text>
<text class="ax" x="652.18" y="472.5" text-anchor="middle" textLength="15.0" lengthAdjust="spacingAndGlyphs">12:00</text>
<text class="ax" x="698.65" y="472.5" text-anchor="middle" textLength="15.0" lengthAdjust="spacingAndGlyphs">18:00</text>
<text class="ax" x="745.12" y="472.5" text-anchor="middle" textLength="6.4" lengthAdjust="spacingAndGlyphs">21</text>
<text class="ax" x="791.60" y="472.5" text-anchor="middle" textLength="15.0" lengthAdjust="spacingAndGlyphs">06:00</text>
<text class="ax" x="838.08" y="472.5" text-anchor="middle" textLength="15.0" lengthAdjust="spacingAndGlyphs">12:00</text>
<text class="ax" x="884.55" y="472.5" text-anchor="middle" textLength="15.0" lengthAdjust="spacingAndGlyphs">18:00</text>
<text class="ax" x="931.02" y="472.5" text-anchor="middle" textLength="6.4" lengthAdjust="spacingAndGlyphs">22</text>
<text class="ax" x="977.50" y="472.5" text-anchor="middle" textLength="15.0" lengthAdjust="spacingAndGlyphs">06:00</text>
<g fill="none" stroke="#4a4d52"><circle cx="1006.6" cy="470.4" r="2.55" stroke-width="0.95"/><path d="M1009.40 470.40L1010.50 470.40M1008.58 472.38L1009.36 473.16M1006.60 473.20L1006.60 474.30M1004.62 472.38L1003.84 473.16M1003.80 470.40L1002.70 470.40M1004.62 468.42L1003.84 467.64M1006.60 467.60L1006.60 466.50M1008.58 468.42L1009.36 467.64" stroke-width="1.25"/></g>
<rect x="1.8" y="3.5" width="293" height="12" fill="#fff" fill-opacity="0.8"/>
<rect x="1.8" y="19" width="101" height="10" fill="#fff" fill-opacity="0.6"/>
<rect x="8.45" y="6.25" width="6.9" height="7" rx="1.3" fill="#fff" stroke="#74787e" stroke-width="0.65"/>
<path d="M10 9.75h3.9" stroke="#6a6e74" stroke-width="0.65"/>
<rect x="21.3" y="6.3" width="6" height="7.1" fill="#c9cbce"/>
<text y="12.8" font-size="8.7" fill="#56595d"><tspan x="30.6" textLength="38.6" lengthAdjust="spacingAndGlyphs">Ethereum</tspan> <tspan x="73.0" textLength="2.5" lengthAdjust="spacingAndGlyphs">/</tspan> <tspan x="79.7" textLength="14.5" lengthAdjust="spacingAndGlyphs">U.S.</tspan> <tspan x="99.4" textLength="22.5" lengthAdjust="spacingAndGlyphs">Dollar</tspan> <tspan x="124.9">·</tspan> <tspan x="129.8" textLength="4.2" lengthAdjust="spacingAndGlyphs">5</tspan> <tspan x="136.4">·</tspan> <tspan x="141.1" textLength="37.9" lengthAdjust="spacingAndGlyphs">COINBASE</tspan></text>
<path d="M182.9 8.7l1.9 1.7 1.9-1.7" stroke="#44474c" stroke-width="1.1" fill="none"/>
<text y="12.8" font-size="8.7" fill="#4b82b0"><tspan x="202.4" textLength="25.5" lengthAdjust="spacingAndGlyphs">257.41</tspan> <tspan x="236.3" textLength="20.5" lengthAdjust="spacingAndGlyphs">−0.46</tspan> <tspan x="261" textLength="32.2" lengthAdjust="spacingAndGlyphs">(−0.18%)</tspan></text>
<text x="8.8" y="26.2" font-size="7" fill="#5c6066" textLength="24" lengthAdjust="spacingAndGlyphs">Vol (20)</text>
<path d="M36.6 23.3l1.9 1.7 1.9-1.7" stroke="#44474c" stroke-width="1.1" fill="none"/>
<rect x="46.8" y="20" width="7.2" height="7.2" rx="0.8" fill="#cbcdd0"/>
<rect x="56.4" y="20" width="7.2" height="7.2" rx="0.8" fill="#cbcdd0"/>
<rect x="66.0" y="20" width="7.2" height="7.2" rx="0.8" fill="#cbcdd0"/>
<circle cx="50.4" cy="23.6" r="1.7" fill="none" stroke="#fff" stroke-width="0.8"/>
<rect x="58.0" y="21.6" width="4" height="4" fill="none" stroke="#fff" stroke-width="0.7"/><path d="M59.4 22.7l1.4 0.9-1.4 0.9z" fill="#fff"/>
<path d="M67.6 21.6l4 4M71.6 21.6l-4 4" stroke="#fff" stroke-width="0.9"/>
<text x="78" y="26.1" font-size="6.5" fill="#dc7a7c" textLength="7.2" lengthAdjust="spacingAndGlyphs">92</text>
<text x="90.6" y="26.1" font-size="6.5" fill="#f0b886" textLength="10" lengthAdjust="spacingAndGlyphs">301</text>
<text class="an" x="20.3" y="98.1" textLength="123.5" lengthAdjust="spacingAndGlyphs">ETH prices respond to</text>
<text class="an" x="20.3" y="109.4" textLength="167.2" lengthAdjust="spacingAndGlyphs">the Bitcoin dump on Bitstamp</text>
<text class="an" x="432.3" y="393" textLength="248.7" lengthAdjust="spacingAndGlyphs">ETH trading volume on Coinbase reaches its</text>
<text class="an" x="432.3" y="404.3" textLength="249.7" lengthAdjust="spacingAndGlyphs">highest notional value since December 2017</text>
</g></svg></body></html>
